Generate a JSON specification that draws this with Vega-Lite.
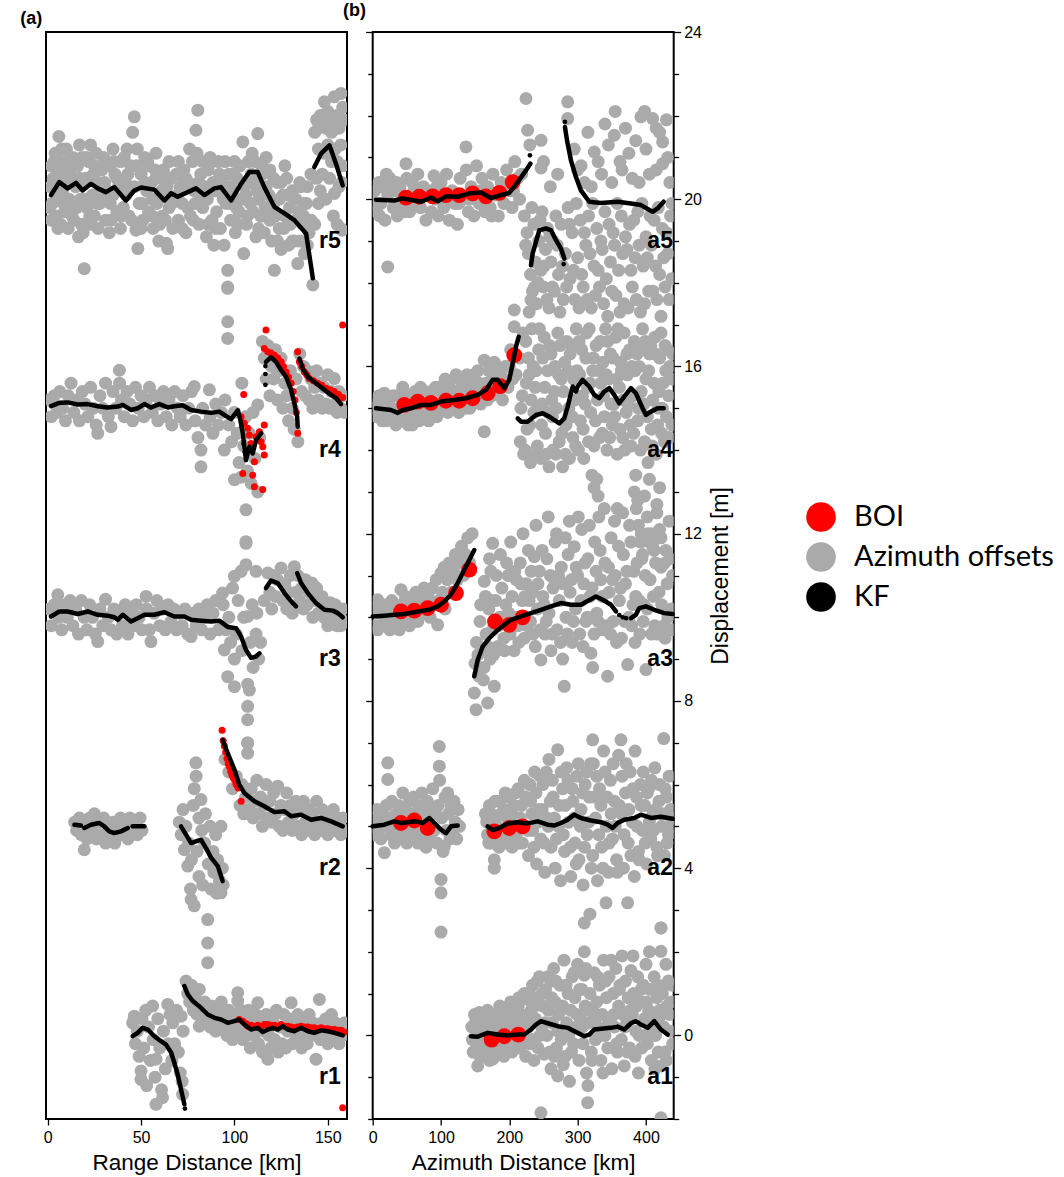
{
  "$schema": "https://vega.github.io/schema/vega-lite/v6.json",
  "usermeta": {"embedOptions": {"actions": false}},
  "background": "white",
  "autosize": {"type": "pad"},
  "padding": {"left": 19, "top": 1, "right": 5, "bottom": 58},
  "bounds": "flush",
  "spacing": 25.7,
  "resolve": {"scale": {"x": "independent", "y": "independent"}},
  "datasets": {
    "ga": [
      {"x":1.5,"y":20.3},{"x":2,"y":20.8},{"x":2.5,"y":19.9},{"x":3,"y":20.5},{"x":4,"y":21.1},{"x":4.5,"y":19.6},{"x":5,"y":20.0},{"x":6,"y":21.5},{"x":6.5,"y":20.7},{"x":7,"y":19.4},{"x":7.5,"y":21.2},{"x":8,"y":20.2},{"x":9,"y":19.7},{"x":9.5,"y":20.9},{"x":10.5,"y":20.4},{"x":11,"y":19.3},{"x":12,"y":20.6},{"x":12.5,"y":19.9},{"x":13.5,"y":21.0},{"x":14,"y":19.5},{"x":15,"y":20.3},{"x":16,"y":20.8},{"x":16.5,"y":19.1},{"x":17.5,"y":20.0},{"x":18,"y":19.4},{"x":19,"y":19.2},{"x":19.6,"y":18.34},
      {"x":20.5,"y":20.5},{"x":21,"y":19.8},{"x":22,"y":20.9},{"x":23,"y":21.3},{"x":24,"y":20.1},{"x":25,"y":19.6},{"x":26,"y":21.1},{"x":27,"y":20.4},{"x":28,"y":19.9},{"x":29,"y":20.7},{"x":30,"y":21.0},{"x":31,"y":19.5},{"x":32,"y":20.2},{"x":33,"y":20.8},{"x":34,"y":19.5},{"x":35,"y":20.1},{"x":36,"y":20.6},{"x":37,"y":19.7},{"x":38,"y":20.3},{"x":39,"y":20.9},
      {"x":40.5,"y":19.8},{"x":41.5,"y":20.5},{"x":42.5,"y":21.2},{"x":43.5,"y":19.6},{"x":44.5,"y":20.8},{"x":45.5,"y":21.6},{"x":46.4,"y":21.97},{"x":46.5,"y":20.3},{"x":47.3,"y":19.26},{"x":48.3,"y":18.82},{"x":49,"y":19.9},{"x":50,"y":20.6},{"x":51,"y":19.5},{"x":52,"y":21.0},{"x":53,"y":20.2},{"x":54,"y":19.7},
      {"x":55.5,"y":20.4},{"x":56.5,"y":19.3},{"x":57.5,"y":20.7},{"x":58.5,"y":19.9},{"x":59.5,"y":19.0},{"x":60.5,"y":20.5},{"x":61.5,"y":19.6},{"x":62.5,"y":20.2},{"x":63.5,"y":18.95},{"x":64.3,"y":18.82},{"x":65,"y":19.8},{"x":66,"y":20.5},{"x":67,"y":19.3},{"x":68,"y":20.0},{"x":69,"y":20.6},{"x":70,"y":19.5},{"x":71,"y":20.3},{"x":72,"y":19.9},{"x":73,"y":20.7},{"x":74,"y":19.2},
      {"x":75.5,"y":20.4},{"x":76.5,"y":19.6},{"x":77.5,"y":20.9},{"x":78.5,"y":20.2},{"x":79.4,"y":21.65},{"x":80.4,"y":22.13},{"x":80,"y":21.1},{"x":81,"y":19.4},{"x":82,"y":20.6},{"x":83,"y":19.8},{"x":84,"y":20.3},{"x":85,"y":19.1},{"x":86,"y":20.7},{"x":87,"y":21.0},{"x":88,"y":19.5},{"x":89,"y":18.9},{"x":89.5,"y":20.2},{"x":90.5,"y":19.7},{"x":91.5,"y":20.9},{"x":92.5,"y":19.3},{"x":93.5,"y":20.4},{"x":94.5,"y":18.9},{"x":95.5,"y":19.9},{"x":96.4,"y":18.3},{"x":96.4,"y":17.9},{"x":97,"y":20.6},{"x":98,"y":19.5},{"x":99,"y":20.1},
      {"x":100.5,"y":19.2},{"x":101.5,"y":20.5},{"x":102.5,"y":19.7},{"x":104.5,"y":21.37},{"x":105,"y":18.7},{"x":105.5,"y":20.3},{"x":106.5,"y":19.4},{"x":107.5,"y":20.9},{"x":108.5,"y":19.9},{"x":109.5,"y":21.1},{"x":110.5,"y":20.4},{"x":111.5,"y":19.1},{"x":112.5,"y":21.57},{"x":113,"y":20.0},{"x":114,"y":19.6},{"x":115,"y":20.6},{"x":116,"y":19.2},{"x":117,"y":20.3},{"x":118,"y":19.8},{"x":119,"y":20.7},{"x":120,"y":19.0},{"x":121.4,"y":18.3},{"x":122,"y":19.6},{"x":123,"y":20.4},{"x":124,"y":19.3},{"x":125,"y":18.8},{"x":126,"y":20.1},{"x":127,"y":19.6},{"x":128,"y":20.5},{"x":129,"y":18.9},{"x":130,"y":19.4},{"x":131,"y":20.2},{"x":132,"y":19.0},{"x":133.9,"y":18.46},{"x":134.5,"y":19.7},{"x":135.5,"y":20.3},{"x":136.5,"y":19.4},{"x":137.5,"y":18.7},{"x":138.5,"y":19.9},{"x":140,"y":19.2},{"x":142,"y":17.95},
      {"x":143,"y":21.6},{"x":144,"y":21.9},{"x":145,"y":21.7},{"x":146,"y":22.0},{"x":147,"y":21.8},{"x":148.2,"y":22.33},{"x":149,"y":21.7},{"x":150,"y":22.1},{"x":151,"y":21.9},{"x":152,"y":21.6},{"x":153.5,"y":22.45},{"x":154,"y":21.8},{"x":155,"y":22.0},{"x":156,"y":21.7},{"x":157.1,"y":22.53},{"x":158,"y":22.2},{"x":158.5,"y":21.9},{"x":144,"y":20.5},{"x":146,"y":20.2},{"x":155,"y":20.9},{"x":157,"y":19.3},{"x":157.5,"y":20.4},{"x":153.6,"y":20.14},{"x":157.6,"y":19.26},
      {"x":1,"y":19.8},{"x":3.5,"y":20.9},{"x":5.5,"y":20.4},{"x":8.5,"y":19.9},{"x":10,"y":21.2},{"x":11.5,"y":20.0},{"x":13,"y":20.5},{"x":14.5,"y":20.9},{"x":17,"y":20.5},{"x":18.5,"y":21.0},{"x":20,"y":20.0},{"x":22.5,"y":19.6},{"x":24.5,"y":20.6},{"x":26.5,"y":19.9},{"x":28.5,"y":20.3},{"x":30.5,"y":20.4},{"x":33.5,"y":19.9},{"x":35.5,"y":20.9},{"x":37.5,"y":20.2},{"x":39.5,"y":19.6},{"x":42,"y":20.1},{"x":44,"y":20.3},{"x":47.5,"y":20.8},{"x":50.5,"y":19.9},{"x":53.5,"y":20.9},{"x":56,"y":20.0},{"x":58,"y":20.5},{"x":60,"y":19.4},{"x":62,"y":20.7},{"x":64,"y":20.3},{"x":66.5,"y":19.9},{"x":69.5,"y":20.1},{"x":72.5,"y":20.5},{"x":75,"y":19.8},{"x":77,"y":20.3},{"x":79,"y":19.9},{"x":82.5,"y":20.1},{"x":85.5,"y":20.0},{"x":88.5,"y":20.4},{"x":91,"y":20.2},{"x":94,"y":20.0},{"x":97.5,"y":19.9},{"x":99.5,"y":20.6},{"x":101,"y":19.8},{"x":103,"y":20.8},{"x":106,"y":20.1},{"x":108,"y":20.4},{"x":110,"y":19.7},{"x":112,"y":20.2},{"x":114.5,"y":20.8},{"x":116.5,"y":19.8},{"x":118.5,"y":20.1},{"x":121,"y":19.9},{"x":124,"y":20.0},{"x":126.5,"y":19.3},{"x":129.5,"y":19.8},{"x":132.5,"y":19.5},{"x":135,"y":19.0},{"x":137,"y":19.6},{"x":139,"y":18.9},{"x":141,"y":19.5},
      {"x":2,"y":19.5},{"x":4,"y":20.3},{"x":5.5,"y":19.3},{"x":7,"y":20.9},{"x":9,"y":20.6},{"x":11,"y":20.8},{"x":13,"y":19.6},{"x":15.5,"y":19.8},{"x":17,"y":21.3},{"x":19,"y":20.4},{"x":21,"y":21.0},{"x":23,"y":19.4},{"x":25,"y":20.8},{"x":27,"y":19.3},{"x":29,"y":20.0},{"x":31,"y":20.8},{"x":33,"y":19.2},{"x":35,"y":21.2},{"x":37,"y":20.5},{"x":39,"y":19.3},{"x":41,"y":21.0},{"x":43,"y":20.6},{"x":45,"y":19.5},{"x":48,"y":21.2},{"x":50,"y":19.3},{"x":52,"y":20.4},{"x":54,"y":20.8},{"x":56,"y":19.6},{"x":58,"y":21.1},{"x":61,"y":20.2},{"x":63,"y":19.5},{"x":65,"y":20.9},{"x":67,"y":20.0},{"x":70,"y":20.9},{"x":72,"y":19.3},{"x":74,"y":20.5},{"x":76,"y":21.2},{"x":78,"y":19.5},{"x":81,"y":20.4},{"x":83,"y":20.9},{"x":86,"y":19.4},{"x":88,"y":20.9},{"x":90,"y":19.3},{"x":92,"y":20.6},{"x":95,"y":20.9},{"x":98,"y":20.3},{"x":100,"y":20.9},{"x":102,"y":19.4},{"x":104,"y":20.0},{"x":107,"y":19.6},{"x":109,"y":20.6},{"x":111,"y":20.9},{"x":113,"y":19.3},{"x":115,"y":19.6},{"x":117,"y":21.0},{"x":119,"y":19.5},{"x":121,"y":20.5},{"x":123,"y":19.0},{"x":125,"y":20.4},{"x":127,"y":20.8},{"x":129,"y":20.1},{"x":131,"y":19.0},{"x":133,"y":20.0},{"x":135,"y":20.4},{"x":137,"y":19.9},{"x":139,"y":20.3},{"x":141,"y":20.6},{"x":143,"y":19.4},{"x":145,"y":19.9},{"x":147,"y":20.6},{"x":149,"y":20.0},{"x":151,"y":20.5},{"x":153,"y":19.6},{"x":155,"y":19.4},{"x":156,"y":20.3},{"x":158,"y":20.8},{"x":150,"y":21.3},{"x":152,"y":20.9},{"x":145,"y":21.2},{"x":148,"y":21.1},{"x":154,"y":21.2},{"x":157,"y":21.3},
      {"x":1,"y":15.2},{"x":2,"y":14.8},{"x":3.5,"y":15.3},{"x":5,"y":14.9},{"x":6.5,"y":15.4},{"x":8,"y":15.0},{"x":9.5,"y":14.7},{"x":11,"y":15.3},{"x":12.5,"y":15.6},{"x":14,"y":14.9},{"x":15.5,"y":15.2},{"x":17,"y":14.7},{"x":18.5,"y":15.4},{"x":20,"y":15.1},{"x":21.5,"y":14.8},{"x":23,"y":15.5},{"x":24.5,"y":15.0},{"x":26,"y":14.6},{"x":26.8,"y":14.4},{"x":28,"y":15.3},{"x":29.5,"y":15.0},{"x":31,"y":15.6},{"x":32.5,"y":14.8},{"x":33.9,"y":14.56},{"x":35,"y":15.4},{"x":36.5,"y":15.0},{"x":38.4,"y":15.91},{"x":38.5,"y":15.6},{"x":39.5,"y":15.2},{"x":41,"y":14.8},{"x":42.5,"y":15.4},{"x":44,"y":15.1},{"x":45.5,"y":14.7},{"x":47,"y":15.5},{"x":48.5,"y":15.0},{"x":50,"y":15.3},{"x":51.5,"y":14.8},{"x":53,"y":15.2},{"x":54.5,"y":15.5},{"x":56,"y":14.9},{"x":57.5,"y":15.3},{"x":59,"y":14.7},{"x":60.5,"y":15.1},{"x":62,"y":15.4},{"x":63.5,"y":14.8},{"x":65,"y":15.2},{"x":66.5,"y":14.6},{"x":68,"y":15.4},{"x":69.5,"y":15.0},{"x":71,"y":14.8},{"x":72.5,"y":15.3},{"x":74,"y":14.6},{"x":75.5,"y":15.0},{"x":77,"y":15.4},{"x":78.5,"y":15.52},{"x":79,"y":14.7},{"x":80.5,"y":14.3},{"x":82.1,"y":14.0},{"x":82.1,"y":13.6},{"x":83,"y":15.0},{"x":84.5,"y":14.6},{"x":86.6,"y":15.44},{"x":87,"y":14.8},{"x":88.5,"y":14.4},{"x":90,"y":15.1},{"x":91.5,"y":14.6},{"x":93,"y":14.9},{"x":94.6,"y":14.0},{"x":95,"y":15.2},{"x":96.4,"y":17.87},{"x":96.4,"y":17.07},{"x":96.4,"y":16.67},{"x":97,"y":14.6},{"x":98.5,"y":14.2},{"x":100,"y":13.29},{"x":100,"y":14.9},{"x":101.5,"y":14.4},{"x":102.5,"y":13.7},{"x":103.6,"y":13.35},{"x":104,"y":15.6},{"x":105,"y":14.1},{"x":106,"y":14.8},{"x":106.2,"y":12.57},{"x":106.2,"y":11.81},{"x":107,"y":13.5},{"x":108,"y":14.4},{"x":109,"y":13.2},{"x":110,"y":14.9},{"x":111,"y":13.8},{"x":112.5,"y":15.08},{"x":112.5,"y":13.0},{"x":113.5,"y":14.3},{"x":115,"y":16.6},{"x":116,"y":16.2},{"x":117,"y":15.7},{"x":118,"y":16.5},{"x":119,"y":15.3},{"x":120,"y":16.0},{"x":121,"y":15.7},{"x":122,"y":16.4},{"x":123,"y":15.2},{"x":124,"y":15.9},{"x":125,"y":16.2},{"x":126,"y":15.0},{"x":127,"y":15.6},{"x":128,"y":15.3},{"x":129,"y":14.7},{"x":130,"y":15.9},{"x":131,"y":15.0},{"x":132,"y":14.5},{"x":133,"y":15.7},{"x":134,"y":14.2},{"x":135,"y":16.3},{"x":136,"y":15.4},{"x":137,"y":16.0},{"x":138,"y":15.3},{"x":139,"y":15.9},{"x":140,"y":15.2},{"x":141,"y":15.7},{"x":142,"y":15.0},{"x":143,"y":15.5},{"x":144,"y":15.9},{"x":145,"y":15.2},{"x":146,"y":15.6},{"x":147,"y":15.0},{"x":148,"y":15.5},{"x":149,"y":15.1},{"x":150,"y":15.8},{"x":151,"y":15.0},{"x":152,"y":15.4},{"x":153.5,"y":15.71},{"x":154,"y":15.1},{"x":155,"y":14.9},{"x":156,"y":15.4},{"x":157,"y":15.0},{"x":158,"y":15.3},{"x":159,"y":14.9},
      {"x":1,"y":10.2},{"x":2,"y":9.8},{"x":3.5,"y":10.3},{"x":5.4,"y":10.54},{"x":6,"y":10.0},{"x":7.5,"y":9.7},{"x":9,"y":10.3},{"x":10.5,"y":10.0},{"x":12,"y":10.4},{"x":13.5,"y":9.8},{"x":15,"y":10.2},{"x":16.5,"y":9.6},{"x":18,"y":10.4},{"x":19.5,"y":10.0},{"x":21,"y":9.7},{"x":22.5,"y":10.3},{"x":24,"y":10.0},{"x":25.5,"y":9.6},{"x":26.8,"y":9.42},{"x":28,"y":10.2},{"x":29.5,"y":9.8},{"x":31,"y":10.43},{"x":32.5,"y":10.0},{"x":34,"y":9.7},{"x":35.5,"y":10.2},{"x":37,"y":9.6},{"x":38.5,"y":10.1},{"x":40,"y":9.8},{"x":41.5,"y":10.3},{"x":43,"y":9.6},{"x":44.5,"y":10.1},{"x":46,"y":9.8},{"x":47.5,"y":10.3},{"x":49,"y":10.0},{"x":50.5,"y":9.7},{"x":52.7,"y":10.5},{"x":53,"y":10.2},{"x":54.5,"y":9.7},{"x":55.3,"y":9.42},{"x":57,"y":10.1},{"x":58.5,"y":10.4},{"x":60,"y":9.8},{"x":61.5,"y":10.2},{"x":63,"y":9.7},{"x":64.5,"y":10.3},{"x":66,"y":9.9},{"x":67.5,"y":10.2},{"x":69,"y":9.7},{"x":70.5,"y":10.1},{"x":72,"y":9.8},{"x":73.5,"y":10.2},{"x":75,"y":9.6},{"x":76.8,"y":9.54},{"x":78,"y":10.1},{"x":79.5,"y":9.8},{"x":81,"y":10.2},{"x":82.5,"y":9.7},{"x":84,"y":10.0},{"x":85.5,"y":10.3},{"x":87,"y":9.6},{"x":88.5,"y":10.1},{"x":90,"y":10.4},{"x":91.5,"y":9.7},{"x":93.7,"y":10.58},{"x":94,"y":10.3},{"x":94.6,"y":9.22},{"x":95.5,"y":9.7},{"x":96.4,"y":8.58},{"x":97,"y":10.0},{"x":98,"y":9.4},{"x":99,"y":10.7},{"x":100,"y":10.98},{"x":100,"y":9.0},{"x":100,"y":8.34},{"x":101,"y":9.6},{"x":102,"y":10.4},{"x":103.6,"y":11.1},{"x":104,"y":9.2},{"x":105,"y":10.0},{"x":106.2,"y":11.77},{"x":106.2,"y":11.26},{"x":107.1,"y":10.02},{"x":107.1,"y":8.4},{"x":108,"y":8.26},{"x":107.1,"y":7.87},{"x":107.1,"y":7.55},{"x":107.1,"y":7.0},{"x":107.1,"y":6.75},{"x":108.5,"y":9.4},{"x":109.5,"y":10.3},{"x":110,"y":8.8},{"x":111.6,"y":11.1},{"x":111.6,"y":9.6},{"x":112,"y":10.1},{"x":113,"y":9.0},{"x":114,"y":9.4},{"x":116,"y":10.4},{"x":117.9,"y":11.06},{"x":119,"y":10.6},{"x":120,"y":10.2},{"x":121,"y":11.0},{"x":122,"y":10.5},{"x":123,"y":10.9},{"x":125,"y":11.18},{"x":126,"y":10.4},{"x":127,"y":10.8},{"x":128,"y":10.2},{"x":129,"y":10.6},{"x":130,"y":11.0},{"x":131,"y":10.1},{"x":132.1,"y":11.21},{"x":133,"y":10.6},{"x":134,"y":11.0},{"x":135,"y":10.4},{"x":136,"y":10.7},{"x":137,"y":10.2},{"x":138,"y":10.9},{"x":139,"y":10.3},{"x":140,"y":10.6},{"x":141.5,"y":10.82},{"x":142,"y":10.0},{"x":143,"y":10.4},{"x":144,"y":10.7},{"x":145,"y":10.1},{"x":146.9,"y":10.5},{"x":148,"y":10.0},{"x":149,"y":10.3},{"x":150,"y":9.8},{"x":151.3,"y":10.35},{"x":152,"y":10.0},{"x":153.6,"y":9.98},{"x":154,"y":10.3},{"x":155,"y":9.8},{"x":156,"y":10.1},{"x":157,"y":9.8},{"x":158,"y":10.2},{"x":159,"y":9.9},
      {"x":14.5,"y":5.1},{"x":15.5,"y":4.9},{"x":17,"y":5.2},{"x":18,"y":4.8},{"x":19.6,"y":4.44},{"x":20,"y":5.0},{"x":21,"y":4.7},{"x":22.5,"y":5.2},{"x":23.5,"y":4.9},{"x":25,"y":5.3},{"x":26,"y":4.7},{"x":27.5,"y":5.1},{"x":28.5,"y":4.8},{"x":30,"y":5.2},{"x":31,"y":4.6},{"x":32.5,"y":5.0},{"x":33.5,"y":4.7},{"x":35,"y":5.1},{"x":36,"y":4.6},{"x":37.5,"y":4.9},{"x":39,"y":5.2},{"x":40,"y":4.8},{"x":41.5,"y":5.0},{"x":43,"y":4.7},{"x":44,"y":5.2},{"x":45.5,"y":4.9},{"x":47,"y":5.1},{"x":48,"y":4.8},{"x":49.5,"y":5.2},{"x":50.5,"y":4.9},
      {"x":70.5,"y":5.1},{"x":71.5,"y":4.8},{"x":72.5,"y":5.4},{"x":73.2,"y":4.44},{"x":74,"y":5.0},{"x":75,"y":4.05},{"x":75.5,"y":4.6},{"x":76.5,"y":3.5},{"x":76.8,"y":3.25},{"x":77,"y":4.2},{"x":78,"y":5.5},{"x":78.5,"y":5.9},{"x":78.5,"y":3.1},{"x":79.4,"y":6.52},{"x":79.5,"y":6.2},{"x":80,"y":4.4},{"x":81,"y":3.8},{"x":81,"y":5.2},{"x":82.1,"y":5.64},{"x":82.5,"y":4.9},{"x":83,"y":3.6},{"x":84,"y":4.6},{"x":84.5,"y":5.3},{"x":85.7,"y":2.77},{"x":85.7,"y":2.21},{"x":85.7,"y":1.74},{"x":86,"y":4.1},{"x":87,"y":5.0},{"x":87.5,"y":3.5},{"x":88.5,"y":4.4},{"x":89,"y":3.9},{"x":90,"y":4.8},{"x":90.5,"y":3.4},{"x":91,"y":4.2},{"x":92,"y":3.7},{"x":92.8,"y":3.41},{"x":92.8,"y":5.0},{"x":93.5,"y":4.0},{"x":94,"y":3.6},
      {"x":95,"y":6.6},{"x":97,"y":6.3},{"x":99,"y":5.9},{"x":101,"y":6.2},{"x":103,"y":5.5},{"x":104,"y":6.0},{"x":105,"y":5.3},{"x":106,"y":5.7},{"x":107.1,"y":6.99},{"x":108,"y":5.4},{"x":109,"y":5.9},{"x":110,"y":5.2},{"x":111,"y":5.6},{"x":112,"y":6.1},{"x":113,"y":5.3},{"x":114,"y":5.7},{"x":115,"y":5.0},{"x":116,"y":5.5},{"x":117,"y":6.0},{"x":118,"y":5.2},{"x":119,"y":5.6},{"x":120,"y":5.1},{"x":121,"y":5.8},{"x":122,"y":5.3},{"x":123.2,"y":5.96},{"x":124,"y":5.0},{"x":125,"y":5.5},{"x":126,"y":4.9},{"x":127,"y":5.4},{"x":128,"y":5.8},{"x":129,"y":5.1},{"x":130,"y":5.5},{"x":131,"y":4.9},{"x":132,"y":5.3},{"x":133,"y":5.6},{"x":134,"y":5.0},{"x":135,"y":5.4},{"x":136,"y":4.8},{"x":137,"y":5.6},{"x":138,"y":5.1},{"x":139,"y":4.9},{"x":140,"y":5.4},{"x":141,"y":5.0},{"x":142,"y":5.3},{"x":143,"y":4.8},{"x":144,"y":5.6},{"x":145,"y":5.1},{"x":146,"y":4.9},{"x":147,"y":5.4},{"x":148,"y":5.0},{"x":149,"y":5.2},{"x":150,"y":4.8},{"x":151,"y":5.3},{"x":152,"y":5.0},{"x":153,"y":5.4},{"x":154,"y":4.9},{"x":155,"y":5.2},{"x":156,"y":5.0},{"x":157,"y":4.8},{"x":158,"y":5.2},{"x":159,"y":4.9},
      {"x":45.5,"y":0.3},{"x":46.4,"y":0.46},{"x":47,"y":-0.2},{"x":48,"y":0.1},{"x":49,"y":-0.5},{"x":50,"y":-0.85},{"x":50,"y":-1.05},{"x":50.5,"y":0.4},{"x":51.5,"y":-0.3},{"x":52.5,"y":0.6},{"x":53,"y":-1.2},{"x":54,"y":0.2},{"x":55,"y":-0.6},{"x":56.2,"y":0.7},{"x":56.5,"y":-0.1},{"x":57.5,"y":-1.0},{"x":58,"y":-0.57},{"x":58,"y":-1.65},{"x":59,"y":0.4},{"x":60,"y":-0.3},{"x":61,"y":-1.3},{"x":61.5,"y":-1.49},{"x":62,"y":0.1},{"x":63,"y":-0.8},{"x":64.3,"y":0.74},{"x":64.5,"y":-0.2},{"x":65.5,"y":0.5},{"x":66.5,"y":-0.6},{"x":67,"y":0.3},{"x":68,"y":-0.2},{"x":69,"y":0.6},{"x":70,"y":-0.4},{"x":71,"y":-0.9},{"x":71.4,"y":0.46},{"x":72,"y":-1.1},{"x":72.3,"y":-1.41},{"x":72.5,"y":0.1},
      {"x":74.1,"y":1.3},{"x":75,"y":1.0},{"x":76,"y":0.8},{"x":77,"y":1.2},{"x":78,"y":0.6},{"x":79,"y":0.9},{"x":80,"y":0.5},{"x":81.2,"y":1.1},{"x":81.2,"y":0.22},{"x":82,"y":0.7},{"x":83,"y":0.4},{"x":84,"y":0.8},{"x":85,"y":0.3},{"x":86,"y":0.6},{"x":87,"y":0.2},{"x":88,"y":0.7},{"x":89,"y":0.4},{"x":90,"y":0.1},{"x":91,"y":0.6},{"x":92,"y":0.3},{"x":93,"y":0.8},{"x":94,"y":0.2},{"x":95,"y":0.5},{"x":96,"y":0.0},{"x":97,"y":0.6},{"x":98,"y":0.3},{"x":99,"y":-0.1},{"x":100,"y":0.06},{"x":100.5,"y":0.5},{"x":101.8,"y":1.02},{"x":101.8,"y":0.82},{"x":102.5,"y":0.2},{"x":103.5,"y":0.6},{"x":104.5,"y":-0.1},{"x":105.5,"y":0.4},{"x":106.5,"y":0.0},{"x":107.5,"y":0.6},{"x":108.5,"y":-0.3},{"x":109.5,"y":0.3},{"x":110.5,"y":0.0},{"x":111.5,"y":0.5},{"x":112.5,"y":0.78},{"x":113,"y":-0.2},{"x":114,"y":0.3},{"x":115,"y":-0.4},{"x":116,"y":0.1},{"x":117,"y":0.5},{"x":117.9,"y":-0.57},{"x":118.5,"y":0.0},{"x":119.5,"y":-0.3},{"x":120.5,"y":0.4},{"x":121.5,"y":-0.1},{"x":122.5,"y":0.6},{"x":123.5,"y":-0.4},{"x":124.5,"y":0.2},{"x":125.5,"y":-0.2},{"x":126.5,"y":0.5},{"x":127.5,"y":-0.3},{"x":128.5,"y":0.1},{"x":129.5,"y":0.4},{"x":130.4,"y":0.78},{"x":131,"y":-0.2},{"x":132,"y":0.3},{"x":133,"y":-0.1},{"x":134,"y":0.5},{"x":135,"y":0.0},{"x":136,"y":-0.3},{"x":137,"y":0.4},{"x":138,"y":0.1},{"x":139,"y":-0.2},{"x":140,"y":0.5},{"x":141,"y":0.0},{"x":142,"y":0.3},{"x":143.7,"y":-0.57},{"x":144,"y":0.2},{"x":145.5,"y":0.86},{"x":146,"y":-0.1},{"x":147,"y":0.3},{"x":148,"y":0.0},{"x":149,"y":0.4},{"x":150,"y":-0.2},{"x":151,"y":0.2},{"x":152,"y":0.5},{"x":153,"y":-0.1},{"x":154,"y":0.3},{"x":155,"y":0.0},{"x":156,"y":-0.2},{"x":157,"y":0.2},{"x":158,"y":0.0},{"x":159,"y":0.3}
    ],
    "ra": [
      {"x":105.0,"y":15.33},{"x":103.6,"y":14.80},{"x":105.3,"y":14.64},{"x":107.1,"y":14.52},{"x":108.0,"y":14.36},{"x":108.9,"y":14.16},{"x":111.6,"y":14.32},{"x":113.4,"y":14.44},{"x":116.0,"y":14.60},{"x":114.3,"y":14.20},{"x":115.2,"y":14.08},{"x":116.0,"y":13.88},{"x":110.7,"y":13.72},{"x":104.5,"y":13.44},{"x":109.8,"y":13.40},{"x":110.7,"y":13.12},{"x":115.2,"y":13.06},{"x":116.9,"y":16.87},{"x":116.0,"y":16.43},{"x":117.9,"y":16.35},{"x":119.6,"y":16.32},{"x":121.4,"y":16.27},{"x":123.2,"y":16.2},{"x":125.0,"y":16.11},{"x":126.3,"y":16.0},{"x":127.7,"y":15.87},{"x":129.0,"y":15.75},{"x":130.4,"y":15.60},{"x":131.5,"y":15.4},{"x":132.5,"y":15.20},{"x":133.2,"y":14.9},{"x":133.9,"y":14.40},{"x":133.9,"y":16.35},{"x":134.8,"y":16.11},{"x":136.1,"y":16.0},{"x":137.5,"y":15.87},{"x":138.8,"y":15.8},{"x":140.1,"y":15.71},{"x":142.3,"y":15.66},{"x":144.6,"y":15.60},{"x":146.8,"y":15.55},{"x":149.1,"y":15.48},{"x":151.3,"y":15.44},{"x":153.5,"y":15.40},{"x":155.8,"y":15.33},{"x":158.0,"y":15.26},{"x":158.0,"y":16.99},
      {"x":93.4,"y":7.30},{"x":94.0,"y":7.05},{"x":94.6,"y":6.92},{"x":95.3,"y":6.78},{"x":96.0,"y":6.62},{"x":96.7,"y":6.5},{"x":97.3,"y":6.43},{"x":98.0,"y":6.32},{"x":98.7,"y":6.22},{"x":99.4,"y":6.16},{"x":100.0,"y":6.12},{"x":100.8,"y":6.02},{"x":101.5,"y":5.97},{"x":102.1,"y":5.92},{"x":103.6,"y":5.60},
      {"x":102.6,"y":0.38},{"x":104.5,"y":0.34},{"x":106.3,"y":0.28},{"x":107.1,"y":0.22},{"x":108.9,"y":0.24},{"x":110.7,"y":0.22},{"x":112.5,"y":0.24},{"x":114.3,"y":0.22},{"x":116.1,"y":0.26},{"x":117.9,"y":0.26},{"x":119.7,"y":0.24},{"x":121.4,"y":0.24},{"x":123.2,"y":0.22},{"x":125.0,"y":0.26},{"x":126.8,"y":0.22},{"x":128.6,"y":0.22},{"x":130.4,"y":0.2},{"x":132.1,"y":0.18},{"x":133.9,"y":0.2},{"x":135.7,"y":0.22},{"x":137.5,"y":0.2},{"x":139.3,"y":0.2},{"x":141.1,"y":0.18},{"x":142.8,"y":0.18},{"x":144.6,"y":0.16},{"x":146.4,"y":0.18},{"x":148.2,"y":0.16},{"x":150.0,"y":0.16},{"x":151.8,"y":0.14},{"x":153.6,"y":0.14},{"x":155.4,"y":0.12},{"x":157.2,"y":0.12},{"x":158.9,"y":0.08},{"x":158.0,"y":-1.73}
    ],
    "ka": [
      {"g":1,"x":1.8,"y":20.10},{"g":1,"x":6.2,"y":20.41},{"g":1,"x":10.7,"y":20.26},{"g":1,"x":15.2,"y":20.39},{"g":1,"x":18.7,"y":20.21},{"g":1,"x":23.2,"y":20.37},{"g":1,"x":26.8,"y":20.26},{"g":1,"x":31.2,"y":20.17},{"g":1,"x":35.7,"y":20.29},{"g":1,"x":41.9,"y":19.97},{"g":1,"x":46.4,"y":20.21},{"g":1,"x":50.0,"y":20.28},{"g":1,"x":57.1,"y":20.23},{"g":1,"x":62.5,"y":19.97},{"g":1,"x":66.1,"y":20.14},{"g":1,"x":69.6,"y":20.06},{"g":1,"x":75.0,"y":20.17},{"g":1,"x":79.4,"y":20.26},{"g":1,"x":83.9,"y":20.10},{"g":1,"x":89.3,"y":20.26},{"g":1,"x":92.8,"y":20.29},{"g":1,"x":98.2,"y":19.97},{"g":1,"x":103.6,"y":20.37},{"g":1,"x":108.0,"y":20.65},{"g":1,"x":112.5,"y":20.65},{"g":1,"x":116.0,"y":20.29},{"g":1,"x":121.4,"y":19.82},{"g":1,"x":126.8,"y":19.66},{"g":1,"x":132.1,"y":19.50},{"g":1,"x":138.4,"y":19.18},{"g":1,"x":142.0,"y":18.11},
      {"g":2,"x":142.8,"y":20.77},{"g":2,"x":146.4,"y":21.09},{"g":2,"x":150.9,"y":21.29},{"g":2,"x":154.4,"y":20.85},{"g":2,"x":158.0,"y":20.33},
      {"g":3,"x":1.8,"y":15.05},{"g":3,"x":6.2,"y":15.13},{"g":3,"x":10.7,"y":15.14},{"g":3,"x":16.1,"y":15.09},{"g":3,"x":21.4,"y":15.10},{"g":3,"x":26.8,"y":15.05},{"g":3,"x":32.1,"y":15.02},{"g":3,"x":37.5,"y":15.04},{"g":3,"x":40.2,"y":15.08},{"g":3,"x":44.6,"y":14.96},{"g":3,"x":48.2,"y":15.00},{"g":3,"x":51.8,"y":15.10},{"g":3,"x":55.3,"y":15.02},{"g":3,"x":59.8,"y":15.10},{"g":3,"x":64.3,"y":15.02},{"g":3,"x":67.8,"y":15.05},{"g":3,"x":72.3,"y":15.07},{"g":3,"x":76.8,"y":14.96},{"g":3,"x":82.1,"y":14.92},{"g":3,"x":87.5,"y":14.89},{"g":3,"x":91.9,"y":14.92},{"g":3,"x":94.6,"y":14.84},{"g":3,"x":98.2,"y":14.74},{"g":3,"x":101.8,"y":14.95},{"g":3,"x":103.2,"y":14.72},{"g":3,"x":104.5,"y":14.40},{"g":3,"x":106.2,"y":13.76},{"g":3,"x":108.0,"y":14.08},{"g":3,"x":109.8,"y":13.92},{"g":3,"x":111.6,"y":14.24},{"g":3,"x":114.3,"y":14.40},
      {"g":4,"x":116.9,"y":16.11},{"g":4,"x":119.6,"y":16.22},{"g":4,"x":122.3,"y":16.11},{"g":4,"x":125.0,"y":15.91},{"g":4,"x":127.7,"y":15.75},{"g":4,"x":130.4,"y":15.44},{"g":4,"x":132.1,"y":15.12},{"g":4,"x":133.6,"y":14.80},{"g":4,"x":133.9,"y":14.56},
      {"g":5,"x":134.8,"y":16.19},{"g":5,"x":136.6,"y":15.95},{"g":5,"x":139.3,"y":15.75},{"g":5,"x":143.7,"y":15.60},{"g":5,"x":148.2,"y":15.44},{"g":5,"x":151.8,"y":15.32},{"g":5,"x":154.5,"y":15.24},{"g":5,"x":157.1,"y":15.10},
      {"g":6,"x":1.8,"y":10.02},{"g":6,"x":6.2,"y":10.14},{"g":6,"x":10.7,"y":10.14},{"g":6,"x":16.1,"y":10.08},{"g":6,"x":21.4,"y":10.14},{"g":6,"x":26.8,"y":10.06},{"g":6,"x":32.1,"y":10.04},{"g":6,"x":35.7,"y":10.00},{"g":6,"x":37.5,"y":9.94},{"g":6,"x":40.2,"y":10.06},{"g":6,"x":44.6,"y":9.90},{"g":6,"x":48.2,"y":9.98},{"g":6,"x":51.8,"y":10.06},{"g":6,"x":57.1,"y":10.06},{"g":6,"x":62.5,"y":10.12},{"g":6,"x":67.8,"y":10.02},{"g":6,"x":73.2,"y":10.02},{"g":6,"x":76.8,"y":9.94},{"g":6,"x":82.1,"y":9.92},{"g":6,"x":87.5,"y":9.90},{"g":6,"x":91.9,"y":9.92},{"g":6,"x":96.4,"y":9.77},{"g":6,"x":100.9,"y":9.74},{"g":6,"x":103.6,"y":9.54},{"g":6,"x":106.2,"y":9.22},{"g":6,"x":108.9,"y":9.03},{"g":6,"x":111.6,"y":9.06},{"g":6,"x":113.4,"y":9.14},
      {"g":7,"x":116.9,"y":10.70},{"g":7,"x":119.6,"y":10.88},{"g":7,"x":123.2,"y":10.82},{"g":7,"x":126.8,"y":10.58},{"g":7,"x":130.4,"y":10.38},{"g":7,"x":133.0,"y":10.26},
      {"g":8,"x":133.6,"y":11.06},{"g":8,"x":135.7,"y":10.82},{"g":8,"x":139.3,"y":10.58},{"g":8,"x":143.7,"y":10.34},{"g":8,"x":148.2,"y":10.18},{"g":8,"x":152.7,"y":10.16},{"g":8,"x":155.4,"y":10.10},{"g":8,"x":158.0,"y":10.00},
      {"g":9,"x":93.7,"y":7.07},{"g":9,"x":96.4,"y":6.75},{"g":9,"x":100.0,"y":6.36},{"g":9,"x":102.6,"y":6.00},{"g":9,"x":105.3,"y":5.80},{"g":9,"x":110.7,"y":5.60},{"g":9,"x":116.0,"y":5.48},{"g":9,"x":121.4,"y":5.34},{"g":9,"x":126.8,"y":5.36},{"g":9,"x":130.4,"y":5.24},{"g":9,"x":135.7,"y":5.28},{"g":9,"x":141.1,"y":5.16},{"g":9,"x":146.4,"y":5.20},{"g":9,"x":151.8,"y":5.12},{"g":9,"x":158.0,"y":5.00},
      {"g":10,"x":14.3,"y":5.04},{"g":10,"x":17.8,"y":5.02},
      {"g":11,"x":19.6,"y":4.96},{"g":11,"x":23.2,"y":5.04},{"g":11,"x":27.7,"y":5.08},{"g":11,"x":30.3,"y":5.00},{"g":11,"x":33.0,"y":4.88},{"g":11,"x":35.7,"y":4.84},{"g":11,"x":39.3,"y":4.88},{"g":11,"x":42.9,"y":4.96},
      {"g":12,"x":45.5,"y":5.00},{"g":12,"x":51.8,"y":5.00},
      {"g":13,"x":71.4,"y":5.00},{"g":13,"x":74.1,"y":4.80},{"g":13,"x":76.8,"y":4.60},{"g":13,"x":79.4,"y":4.64},{"g":13,"x":82.1,"y":4.68},{"g":13,"x":84.8,"y":4.48},{"g":13,"x":87.5,"y":4.25},{"g":13,"x":91.1,"y":4.05},{"g":13,"x":93.7,"y":3.69},
      {"g":14,"x":45.5,"y":-0.02},{"g":14,"x":48.2,"y":0.06},{"g":14,"x":50.9,"y":0.18},{"g":14,"x":53.6,"y":0.14},{"g":14,"x":57.1,"y":-0.02},{"g":14,"x":60.7,"y":-0.14},{"g":14,"x":63.4,"y":-0.22},{"g":14,"x":66.1,"y":-0.41},{"g":14,"x":67.8,"y":-0.65},{"g":14,"x":69.6,"y":-0.93},{"g":14,"x":71.4,"y":-1.29},{"g":14,"x":73.2,"y":-1.65},
      {"g":15,"x":73.2,"y":1.18},{"g":15,"x":75.0,"y":0.98},{"g":15,"x":77.7,"y":0.82},{"g":15,"x":82.1,"y":0.66},{"g":15,"x":85.7,"y":0.50},{"g":15,"x":89.3,"y":0.42},{"g":15,"x":92.8,"y":0.38},{"g":15,"x":96.4,"y":0.30},{"g":15,"x":100.0,"y":0.34},{"g":15,"x":102.6,"y":0.38},{"g":15,"x":105.3,"y":0.26},{"g":15,"x":108.9,"y":0.14},{"g":15,"x":112.5,"y":0.18},{"g":15,"x":115.2,"y":0.08},{"g":15,"x":117.9,"y":0.14},{"g":15,"x":120.5,"y":0.18},{"g":15,"x":123.2,"y":0.14},{"g":15,"x":125.9,"y":0.22},{"g":15,"x":128.6,"y":0.14},{"g":15,"x":132.1,"y":0.10},{"g":15,"x":135.7,"y":0.18},{"g":15,"x":139.3,"y":0.10},{"g":15,"x":142.8,"y":0.06},{"g":15,"x":146.4,"y":0.12},{"g":15,"x":150.0,"y":0.10},{"g":15,"x":153.6,"y":0.06},{"g":15,"x":158.0,"y":0.00}
    ],
    "da": [
      {"x":116.6,"y":16.01},{"x":116.6,"y":15.82},{"x":116.6,"y":15.56},{"x":103.9,"y":14.55},{"x":104.9,"y":14.15},{"x":105.6,"y":13.95},{"x":73.5,"y":-1.75}
    ],
    "la": [
      {"t":"r5","x":157,"y":19},{"t":"r4","x":157,"y":14},{"t":"r3","x":157,"y":9},{"t":"r2","x":157,"y":4},{"t":"r1","x":157,"y":-1}
    ],
    "gb": [
      {"x":3,"y":20.2},{"x":6,"y":19.7},{"x":9,"y":20.4},{"x":12,"y":19.9},{"x":15,"y":20.3},{"x":18,"y":19.5},{"x":21.9,"y":18.38},{"x":22,"y":20.1},{"x":25,"y":20.5},{"x":27,"y":20.4},{"x":30,"y":19.8},{"x":33,"y":20.2},{"x":36,"y":19.6},{"x":40,"y":20.3},{"x":44,"y":19.9},{"x":48.7,"y":20.85},{"x":50,"y":20.5},{"x":54,"y":19.7},{"x":58,"y":20.4},{"x":62,"y":19.9},{"x":66,"y":20.6},{"x":70,"y":19.8},{"x":74,"y":20.3},{"x":78,"y":19.5},{"x":82,"y":20.2},{"x":86,"y":19.7},{"x":89.7,"y":20.56},{"x":92,"y":20.0},{"x":96,"y":19.6},{"x":100,"y":20.4},{"x":104,"y":19.8},{"x":108,"y":20.6},{"x":112,"y":19.5},{"x":116,"y":20.2},{"x":120,"y":19.9},{"x":124,"y":19.4},{"x":128,"y":20.5},{"x":132,"y":20.0},{"x":136.5,"y":21.25},{"x":137,"y":20.7},{"x":140,"y":19.7},{"x":144,"y":20.3},{"x":148,"y":19.6},{"x":152,"y":20.8},{"x":156,"y":19.9},{"x":160,"y":20.5},{"x":164,"y":19.7},{"x":168,"y":20.3},{"x":172,"y":19.8},{"x":176,"y":20.6},{"x":180,"y":20.1},{"x":184,"y":19.6},{"x":188,"y":20.4},{"x":192,"y":19.9},{"x":196,"y":20.7},{"x":200,"y":20.2},{"x":204,"y":19.8},{"x":208,"y":20.9},{"x":212,"y":20.5},
      {"x":1,"y":19.9},{"x":10,"y":19.6},{"x":20,"y":20.6},{"x":35,"y":20.4},{"x":46,"y":19.7},{"x":60,"y":20.2},{"x":76,"y":20.1},{"x":94,"y":20.3},{"x":110,"y":20.0},{"x":126,"y":19.9},{"x":142,"y":20.0},{"x":158,"y":20.2},{"x":174,"y":19.6},{"x":190,"y":20.2},{"x":206,"y":20.2},{"x":215,"y":20.0},{"x":218,"y":20.6},
      {"x":224.4,"y":22.41},{"x":226.8,"y":21.65},{"x":230,"y":21.3},{"x":246.4,"y":21.41},{"x":250,"y":20.9},{"x":246.4,"y":20.75},{"x":285.4,"y":22.33},{"x":285.4,"y":21.93},{"x":295,"y":21.2},{"x":305,"y":20.8},{"x":315,"y":21.6},{"x":324.3,"y":21.13},{"x":335,"y":20.6},{"x":345,"y":21.3},{"x":353.6,"y":21.53},{"x":362,"y":20.9},{"x":370,"y":21.7},{"x":380,"y":20.5},{"x":392.6,"y":21.97},{"x":400,"y":21.2},{"x":409.8,"y":21.93},{"x":415,"y":20.7},{"x":424.4,"y":21.37},{"x":424.4,"y":20.85},{"x":432,"y":21.0},{"x":270.8,"y":20.6},{"x":260,"y":20.3},{"x":340,"y":21.8},{"x":385,"y":21.4},{"x":430,"y":21.9},{"x":310,"y":20.4},{"x":330,"y":20.9},{"x":350,"y":20.4},{"x":365,"y":20.7},{"x":375,"y":21.1},{"x":390,"y":20.4},{"x":405,"y":20.6},{"x":420,"y":21.6},{"x":435,"y":20.4},{"x":300,"y":20.7},{"x":320,"y":20.3},{"x":355,"y":22.1},{"x":398,"y":22.1},{"x":415,"y":21.7},
      {"x":222,"y":19.6},{"x":226,"y":19.2},{"x":228,"y":18.7},{"x":231,"y":18.2},{"x":234,"y":17.8},{"x":236,"y":19.4},{"x":238,"y":18.5},{"x":240,"y":17.5},{"x":243,"y":19.0},{"x":246,"y":18.3},{"x":248,"y":19.7},{"x":250,"y":17.9},{"x":253,"y":18.8},{"x":256,"y":19.3},{"x":258,"y":17.4},{"x":261,"y":18.5},{"x":264,"y":19.0},{"x":266,"y":17.8},{"x":270,"y":18.9},{"x":272,"y":18.2},{"x":276,"y":19.4},{"x":279,"y":17.6},{"x":282,"y":18.7},{"x":286,"y":19.8},{"x":289,"y":18.1},{"x":292,"y":19.2},{"x":296,"y":17.6},{"x":300,"y":18.6},{"x":304,"y":19.5},{"x":308,"y":17.9},{"x":312,"y":18.9},{"x":316,"y":19.6},{"x":320,"y":17.4},{"x":324,"y":18.4},{"x":328,"y":19.3},{"x":332,"y":17.9},{"x":336,"y":18.8},{"x":340,"y":19.7},{"x":344,"y":17.2},{"x":348,"y":18.5},{"x":352,"y":19.2},{"x":356,"y":17.7},{"x":360,"y":18.3},{"x":364,"y":19.6},{"x":368,"y":17.5},{"x":372,"y":18.8},{"x":376,"y":19.4},{"x":380,"y":17.9},{"x":384,"y":18.6},{"x":388,"y":19.7},{"x":392,"y":17.3},{"x":396,"y":18.4},{"x":400,"y":19.1},{"x":404,"y":17.8},{"x":408,"y":18.9},{"x":412,"y":19.5},{"x":416,"y":17.6},{"x":420,"y":18.2},{"x":424,"y":19.3},{"x":428,"y":17.9},{"x":432,"y":18.7},{"x":436,"y":19.6},{"x":438,"y":18.1},
      {"x":224,"y":18.9},{"x":229,"y":17.3},{"x":233,"y":19.8},{"x":237,"y":17.9},{"x":242,"y":18.0},{"x":245,"y":19.5},{"x":251,"y":18.4},{"x":255,"y":17.6},{"x":259,"y":19.1},{"x":263,"y":17.9},{"x":268,"y":19.6},{"x":274,"y":17.3},{"x":278,"y":18.4},{"x":284,"y":17.9},{"x":288,"y":19.4},{"x":294,"y":18.3},{"x":298,"y":19.9},{"x":302,"y":17.4},{"x":306,"y":18.2},{"x":310,"y":19.2},{"x":314,"y":17.6},{"x":318,"y":18.7},{"x":322,"y":19.9},{"x":326,"y":17.7},{"x":330,"y":18.3},{"x":334,"y":19.0},{"x":338,"y":17.5},{"x":342,"y":18.1},{"x":346,"y":19.4},{"x":350,"y":17.8},{"x":354,"y":18.9},{"x":358,"y":19.9},{"x":362,"y":17.3},{"x":366,"y":18.7},{"x":370,"y":19.1},{"x":374,"y":17.4},{"x":378,"y":18.3},{"x":382,"y":19.5},{"x":386,"y":17.6},{"x":390,"y":18.9},{"x":394,"y":19.9},{"x":398,"y":17.5},{"x":402,"y":18.6},{"x":406,"y":19.6},{"x":410,"y":17.8},{"x":414,"y":18.4},{"x":418,"y":19.8},{"x":422,"y":17.2},{"x":426,"y":18.6},{"x":430,"y":19.2},{"x":434,"y":17.6},{"x":438,"y":19.9},
      {"x":215,"y":16.2},{"x":216,"y":14.2},{"x":219,"y":15.3},{"x":221,"y":13.9},{"x":224,"y":16.6},{"x":226,"y":14.5},{"x":229,"y":15.8},{"x":231,"y":13.7},{"x":233,"y":16.9},{"x":236,"y":14.9},{"x":238,"y":15.5},{"x":241,"y":14.1},{"x":243,"y":16.4},{"x":246,"y":13.8},{"x":248,"y":15.1},{"x":251,"y":16.7},{"x":253,"y":14.4},{"x":256,"y":15.9},{"x":258,"y":13.6},{"x":261,"y":16.3},{"x":263,"y":14.8},{"x":266,"y":15.4},{"x":268,"y":13.9},{"x":271,"y":16.8},{"x":273,"y":14.2},{"x":276,"y":15.7},{"x":278,"y":13.6},{"x":281,"y":16.1},{"x":283,"y":14.6},{"x":286,"y":15.9},{"x":288,"y":13.8},{"x":291,"y":16.5},{"x":293,"y":14.3},{"x":296,"y":15.2},{"x":298,"y":16.9},{"x":301,"y":14.0},{"x":303,"y":15.8},{"x":306,"y":16.4},{"x":308,"y":14.5},{"x":311,"y":15.1},{"x":313,"y":16.8},{"x":316,"y":14.2},{"x":318,"y":15.6},{"x":321,"y":13.4},{"x":323,"y":16.2},{"x":326,"y":14.7},{"x":328,"y":13.3},{"x":331,"y":15.9},{"x":333,"y":16.6},{"x":336,"y":14.4},{"x":338,"y":15.3},{"x":341,"y":16.9},{"x":343,"y":14.0},{"x":346,"y":15.7},{"x":348,"y":16.3},{"x":351,"y":14.6},{"x":353,"y":15.1},{"x":356,"y":16.7},{"x":358,"y":13.9},{"x":361,"y":15.5},{"x":363,"y":16.1},{"x":366,"y":14.3},{"x":368,"y":16.8},{"x":371,"y":14.9},{"x":373,"y":15.8},{"x":376,"y":16.4},{"x":378,"y":14.1},{"x":381,"y":15.3},{"x":383,"y":16.6},{"x":385,"y":13.4},{"x":388,"y":14.7},{"x":390,"y":16.0},{"x":393,"y":15.4},{"x":395,"y":16.9},{"x":398,"y":14.2},{"x":400,"y":15.7},{"x":403,"y":13.7},{"x":405,"y":16.3},{"x":408,"y":14.5},{"x":410,"y":15.2},{"x":413,"y":16.7},{"x":415,"y":13.9},{"x":418,"y":15.0},{"x":420,"y":16.2},{"x":423,"y":14.4},{"x":425,"y":15.6},{"x":428,"y":16.5},{"x":430,"y":14.8},{"x":433,"y":15.3},{"x":435,"y":16.0},{"x":438,"y":14.6},
      {"x":217,"y":15.0},{"x":220,"y":16.8},{"x":223,"y":14.0},{"x":225,"y":15.6},{"x":228,"y":16.2},{"x":230,"y":14.6},{"x":232,"y":15.2},{"x":235,"y":16.0},{"x":237,"y":13.9},{"x":239,"y":15.9},{"x":242,"y":15.0},{"x":244,"y":16.9},{"x":247,"y":14.6},{"x":249,"y":16.2},{"x":252,"y":15.5},{"x":254,"y":13.9},{"x":257,"y":14.9},{"x":259,"y":16.5},{"x":262,"y":15.2},{"x":264,"y":14.0},{"x":267,"y":16.0},{"x":269,"y":15.0},{"x":272,"y":15.8},{"x":274,"y":16.5},{"x":277,"y":14.4},{"x":279,"y":15.4},{"x":282,"y":13.9},{"x":284,"y":16.6},{"x":287,"y":15.0},{"x":289,"y":16.3},{"x":292,"y":14.8},{"x":294,"y":15.7},{"x":297,"y":14.1},{"x":299,"y":15.9},{"x":302,"y":16.6},{"x":304,"y":14.7},{"x":307,"y":15.3},{"x":309,"y":13.8},{"x":312,"y":16.2},{"x":314,"y":15.5},{"x":317,"y":16.9},{"x":319,"y":14.9},{"x":322,"y":15.9},{"x":324,"y":14.1},{"x":327,"y":16.5},{"x":329,"y":15.2},{"x":332,"y":14.3},{"x":334,"y":15.6},{"x":337,"y":16.1},{"x":339,"y":14.8},{"x":342,"y":15.8},{"x":344,"y":16.6},{"x":347,"y":14.3},{"x":349,"y":15.1},{"x":352,"y":16.2},{"x":354,"y":14.8},{"x":357,"y":15.7},{"x":359,"y":16.9},{"x":362,"y":14.5},{"x":364,"y":15.9},{"x":367,"y":15.2},{"x":369,"y":14.0},{"x":372,"y":16.3},{"x":374,"y":15.1},{"x":377,"y":14.6},{"x":379,"y":16.0},{"x":382,"y":14.4},{"x":384,"y":15.9},{"x":387,"y":16.3},{"x":389,"y":15.0},{"x":392,"y":14.0},{"x":394,"y":16.4},{"x":397,"y":15.1},{"x":399,"y":16.6},{"x":402,"y":14.8},{"x":404,"y":15.9},{"x":407,"y":16.5},{"x":409,"y":14.1},{"x":412,"y":15.6},{"x":414,"y":16.3},{"x":417,"y":14.6},{"x":419,"y":15.4},{"x":422,"y":16.8},{"x":424,"y":15.0},{"x":427,"y":14.2},{"x":429,"y":15.9},{"x":432,"y":16.4},{"x":434,"y":14.3},{"x":437,"y":15.7},{"x":439,"y":16.3},
      {"x":383,"y":13.0},{"x":386,"y":12.6},{"x":389,"y":12.2},{"x":392,"y":11.8},{"x":395,"y":11.5},{"x":398,"y":12.9},{"x":402,"y":12.4},{"x":405,"y":13.3},{"x":408,"y":12.0},{"x":412,"y":11.6},{"x":416,"y":12.7},{"x":420,"y":13.1},{"x":422,"y":11.9},{"x":324,"y":13.1},{"x":330,"y":12.9},
      {"x":3,"y":15.1},{"x":6,"y":14.8},{"x":9,"y":15.3},{"x":12,"y":14.9},{"x":15,"y":15.2},{"x":17,"y":15.36},{"x":20,"y":14.7},{"x":23,"y":15.1},{"x":26,"y":14.8},{"x":30,"y":15.3},{"x":34,"y":14.6},{"x":38,"y":15.0},{"x":42,"y":14.7},{"x":46,"y":15.3},{"x":50,"y":14.8},{"x":54,"y":15.2},{"x":58,"y":14.6},{"x":62,"y":15.4},{"x":66,"y":14.9},{"x":70,"y":15.5},{"x":74,"y":14.8},{"x":78,"y":15.2},{"x":82,"y":14.7},{"x":86,"y":15.4},{"x":90,"y":15.0},{"x":94,"y":14.8},{"x":98,"y":15.5},{"x":102,"y":15.1},{"x":106,"y":15.7},{"x":110,"y":14.9},{"x":114,"y":15.4},{"x":118,"y":15.1},{"x":122,"y":15.8},{"x":126,"y":14.9},{"x":130,"y":15.5},{"x":134,"y":15.2},{"x":138,"y":15.8},{"x":142,"y":15.0},{"x":146,"y":15.6},{"x":150,"y":15.3},{"x":154,"y":15.9},{"x":158,"y":15.1},{"x":163.3,"y":16.15},{"x":163.3,"y":14.44},{"x":166,"y":15.6},{"x":170,"y":15.9},{"x":174,"y":15.3},{"x":178,"y":16.1},{"x":182,"y":15.6},{"x":186,"y":15.9},{"x":190,"y":15.2},{"x":194,"y":16.0},{"x":198,"y":15.5},{"x":202,"y":16.4},{"x":207.2,"y":17.35},{"x":207.2,"y":16.95},{"x":210,"y":15.8},{"x":231.7,"y":17.59},
      {"x":1,"y":15.0},{"x":8,"y":15.1},{"x":14,"y":14.7},{"x":19,"y":15.2},{"x":28,"y":15.0},{"x":32,"y":14.9},{"x":36,"y":15.3},{"x":40,"y":14.9},{"x":44,"y":15.5},{"x":48,"y":15.0},{"x":52,"y":14.6},{"x":56,"y":15.3},{"x":60,"y":14.9},{"x":64,"y":15.2},{"x":68,"y":14.7},{"x":72,"y":15.1},{"x":76,"y":15.4},{"x":80,"y":15.0},{"x":84,"y":15.2},{"x":88,"y":14.8},{"x":92,"y":15.5},{"x":96,"y":15.1},{"x":100,"y":15.4},{"x":104,"y":15.0},{"x":108,"y":15.3},{"x":112,"y":15.6},{"x":116,"y":15.0},{"x":120,"y":15.4},{"x":124,"y":15.2},{"x":128,"y":15.7},{"x":132,"y":15.3},{"x":136,"y":15.0},{"x":140,"y":15.5},{"x":144,"y":15.2},{"x":148,"y":15.8},{"x":152,"y":15.4},{"x":156,"y":15.6},{"x":160,"y":15.3},{"x":168,"y":15.2},{"x":176,"y":15.7},{"x":184,"y":15.4},{"x":192,"y":15.7},{"x":200,"y":16.0},{"x":205,"y":15.7},
      {"x":2,"y":10.2},{"x":5,"y":9.8},{"x":7.3,"y":10.42},{"x":7.3,"y":9.7},{"x":10,"y":10.1},{"x":13,"y":9.8},{"x":16,"y":10.3},{"x":19,"y":9.9},{"x":22,"y":10.2},{"x":25,"y":9.7},{"x":28,"y":10.4},{"x":31,"y":10.0},{"x":34,"y":9.8},{"x":38.9,"y":9.7},{"x":41.4,"y":10.66},{"x":42,"y":10.3},{"x":45,"y":9.9},{"x":48,"y":10.5},{"x":51,"y":10.1},{"x":54,"y":9.8},{"x":57,"y":10.4},{"x":60,"y":10.0},{"x":63,"y":10.6},{"x":66,"y":9.9},{"x":69,"y":10.4},{"x":72,"y":10.1},{"x":75,"y":10.7},{"x":78,"y":10.2},{"x":81,"y":10.5},{"x":84,"y":10.0},{"x":87,"y":10.7},{"x":90,"y":10.3},{"x":93,"y":10.9},{"x":95.1,"y":9.82},{"x":97,"y":10.4},{"x":100,"y":11.06},{"x":102,"y":10.6},{"x":104.8,"y":11.2},{"x":106,"y":10.2},{"x":109,"y":10.9},{"x":112,"y":11.3},{"x":115,"y":10.6},{"x":118,"y":11.1},{"x":121,"y":11.5},{"x":124,"y":10.9},{"x":127,"y":11.3},{"x":130,"y":11.7},{"x":133,"y":11.0},{"x":136,"y":11.5},{"x":139,"y":11.9},{"x":142,"y":11.3},{"x":145.6,"y":12.0},
      {"x":148.7,"y":8.19},{"x":151.2,"y":7.79},{"x":150,"y":8.9},{"x":152,"y":9.4},{"x":155,"y":8.6},{"x":157,"y":9.9},{"x":160,"y":9.2},{"x":163.3,"y":10.86},{"x":163,"y":8.8},{"x":166,"y":9.6},{"x":168.3,"y":7.95},{"x":170,"y":10.2},{"x":172,"y":9.0},{"x":173,"y":11.1},{"x":175.6,"y":11.77},{"x":176,"y":9.7},{"x":178,"y":8.35},{"x":180,"y":10.4},{"x":183,"y":9.3},{"x":186,"y":10.0},{"x":189,"y":10.7},{"x":192,"y":9.5},{"x":195,"y":10.3},{"x":198,"y":11.0},{"x":201,"y":9.6},{"x":204,"y":10.5},{"x":207,"y":9.2},{"x":210,"y":10.9},{"x":213,"y":9.8},{"x":216,"y":11.3},{"x":219,"y":10.4},{"x":222,"y":9.5},{"x":225,"y":10.8},{"x":228,"y":11.6},{"x":231,"y":9.9},{"x":234,"y":10.6},{"x":236.5,"y":11.45},{"x":238,"y":9.3},{"x":241,"y":10.2},{"x":244,"y":11.1},{"x":246.3,"y":8.98},{"x":249,"y":10.5},{"x":252,"y":9.6},{"x":255,"y":11.4},{"x":258,"y":10.1},{"x":261,"y":9.2},{"x":264,"y":10.7},{"x":267,"y":11.8},{"x":270,"y":9.7},{"x":273,"y":10.4},{"x":276,"y":11.2},{"x":278,"y":9.0},{"x":280.4,"y":8.35},{"x":283,"y":10.0},{"x":286,"y":11.5},{"x":289,"y":10.6},{"x":292,"y":9.4},{"x":295,"y":11.69},{"x":297,"y":10.2},{"x":300,"y":11.0},{"x":303,"y":9.6},{"x":306,"y":12.1},{"x":309,"y":10.8},{"x":312,"y":9.9},{"x":315,"y":11.4},{"x":318,"y":10.5},{"x":319.4,"y":9.14},{"x":322,"y":8.8},{"x":325,"y":11.8},{"x":328,"y":10.1},{"x":331,"y":12.4},{"x":334,"y":10.9},{"x":337,"y":9.7},{"x":340,"y":11.3},{"x":343.9,"y":8.59},{"x":346,"y":10.6},{"x":349,"y":11.9},{"x":352,"y":9.9},{"x":355,"y":11.0},{"x":358,"y":12.6},{"x":361,"y":10.4},{"x":364,"y":9.5},{"x":367,"y":11.5},{"x":370,"y":10.8},{"x":373.2,"y":8.87},{"x":376,"y":12.2},{"x":379,"y":9.8},{"x":382,"y":11.1},{"x":385,"y":10.5},{"x":388,"y":12.8},{"x":391,"y":9.6},{"x":394,"y":11.4},{"x":397,"y":10.3},{"x":400,"y":8.75},{"x":403,"y":12.0},{"x":406,"y":10.9},{"x":410,"y":11.69},{"x":413,"y":9.8},{"x":416,"y":12.5},{"x":419,"y":10.6},{"x":422,"y":11.2},{"x":426.8,"y":11.29},{"x":428,"y":9.5},{"x":431,"y":10.8},{"x":434,"y":12.3},{"x":437,"y":10.2},{"x":439,"y":11.0},
      {"x":154,"y":9.1},{"x":158,"y":10.3},{"x":162,"y":8.5},{"x":165,"y":10.5},{"x":169,"y":9.3},{"x":171,"y":11.4},{"x":174,"y":10.4},{"x":177,"y":9.1},{"x":181,"y":11.0},{"x":184,"y":9.8},{"x":187,"y":11.5},{"x":190,"y":10.0},{"x":193,"y":9.2},{"x":196,"y":11.3},{"x":199,"y":10.1},{"x":202,"y":11.8},{"x":205,"y":9.8},{"x":208,"y":11.1},{"x":211,"y":10.0},{"x":214,"y":9.4},{"x":217,"y":10.8},{"x":220,"y":12.0},{"x":223,"y":10.5},{"x":226,"y":9.8},{"x":229,"y":10.4},{"x":232,"y":11.1},{"x":235,"y":9.6},{"x":239,"y":12.2},{"x":242,"y":10.8},{"x":245,"y":9.7},{"x":248,"y":11.6},{"x":251,"y":10.3},{"x":254,"y":9.9},{"x":257,"y":12.4},{"x":260,"y":11.0},{"x":263,"y":9.6},{"x":266,"y":10.9},{"x":269,"y":12.0},{"x":272,"y":11.0},{"x":275,"y":9.4},{"x":279,"y":10.8},{"x":282,"y":11.9},{"x":285,"y":9.6},{"x":288,"y":12.3},{"x":291,"y":10.9},{"x":294,"y":9.9},{"x":298,"y":11.2},{"x":301,"y":12.4},{"x":305,"y":10.4},{"x":308,"y":9.3},{"x":311,"y":11.3},{"x":314,"y":10.0},{"x":317,"y":12.2},{"x":321,"y":10.7},{"x":324,"y":9.6},{"x":327,"y":11.1},{"x":330,"y":9.9},{"x":333,"y":11.6},{"x":336,"y":10.5},{"x":339,"y":12.6},{"x":342,"y":9.8},{"x":345,"y":11.2},{"x":348,"y":9.6},{"x":351,"y":10.9},{"x":354,"y":12.3},{"x":357,"y":9.4},{"x":360,"y":11.7},{"x":363,"y":10.7},{"x":366,"y":12.5},{"x":369,"y":9.9},{"x":372,"y":11.1},{"x":375,"y":10.0},{"x":378,"y":11.8},{"x":381,"y":10.3},{"x":384,"y":9.4},{"x":387,"y":11.3},{"x":390,"y":10.4},{"x":393,"y":12.0},{"x":396,"y":9.9},{"x":399,"y":11.0},{"x":402,"y":10.2},{"x":405,"y":11.8},{"x":408,"y":9.6},{"x":411,"y":10.5},{"x":414,"y":11.3},{"x":417,"y":9.6},{"x":420,"y":12.1},{"x":423,"y":10.3},{"x":426,"y":9.8},{"x":429,"y":11.6},{"x":432,"y":10.0},{"x":435,"y":11.4},{"x":438,"y":9.7},
      {"x":2,"y":5.2},{"x":4,"y":4.8},{"x":6,"y":5.4},{"x":8,"y":4.9},{"x":10,"y":5.1},{"x":12,"y":4.7},{"x":14,"y":5.3},{"x":17.1,"y":4.37},{"x":18,"y":5.0},{"x":20,"y":5.5},{"x":22,"y":6.52},{"x":22,"y":6.12},{"x":24,"y":5.2},{"x":26,"y":4.8},{"x":28,"y":5.6},{"x":30,"y":5.0},{"x":32,"y":4.6},{"x":34,"y":5.3},{"x":36,"y":4.9},{"x":38,"y":5.5},{"x":40,"y":4.7},{"x":42,"y":5.2},{"x":44,"y":5.8},{"x":46,"y":4.9},{"x":48,"y":5.4},{"x":50,"y":4.6},{"x":52,"y":5.1},{"x":54,"y":5.6},{"x":56,"y":4.8},{"x":58,"y":5.3},{"x":60,"y":5.7},{"x":62,"y":4.9},{"x":64,"y":5.2},{"x":66,"y":4.6},{"x":68,"y":5.5},{"x":70,"y":5.0},{"x":72,"y":5.8},{"x":74,"y":4.8},{"x":76,"y":5.3},{"x":78,"y":4.5},{"x":80,"y":5.6},{"x":82,"y":5.0},{"x":84,"y":4.7},{"x":86,"y":5.4},{"x":88,"y":5.9},{"x":90,"y":4.9},{"x":92,"y":5.3},{"x":94,"y":4.6},{"x":96,"y":5.5},{"x":97.5,"y":6.91},{"x":97.5,"y":6.44},{"x":98,"y":6.1},{"x":100,"y":3.73},{"x":100,"y":3.41},{"x":100,"y":2.47},{"x":101,"y":5.2},{"x":103,"y":4.4},{"x":104.8,"y":4.52},{"x":106,"y":5.7},{"x":108,"y":4.9},{"x":109.8,"y":5.8},{"x":111,"y":5.3},{"x":113,"y":4.7},{"x":115,"y":5.5},{"x":117,"y":4.9},{"x":119,"y":5.6},{"x":121,"y":5.1},{"x":123,"y":4.7},{"x":125,"y":5.4},{"x":127,"y":5.0},
      {"x":165,"y":5.3},{"x":168,"y":4.8},{"x":171,"y":5.5},{"x":174,"y":4.6},{"x":178,"y":4.2},{"x":178,"y":4.0},{"x":180,"y":5.2},{"x":183,"y":4.7},{"x":186,"y":5.6},{"x":189,"y":4.9},{"x":192,"y":5.4},{"x":195,"y":4.6},{"x":198,"y":5.7},{"x":201,"y":5.0},{"x":204,"y":4.5},{"x":207,"y":5.5},{"x":210,"y":4.8},{"x":213,"y":5.9},{"x":216,"y":5.2},{"x":219,"y":4.6},{"x":222,"y":6.1},{"x":225,"y":5.0},{"x":228,"y":4.3},{"x":231,"y":5.6},{"x":234,"y":4.9},{"x":237,"y":6.3},{"x":240,"y":4.1},{"x":243,"y":5.4},{"x":246,"y":4.7},{"x":249,"y":6.0},{"x":252,"y":3.9},{"x":255,"y":5.2},{"x":258,"y":6.6},{"x":261,"y":4.5},{"x":264,"y":5.7},{"x":267,"y":4.0},{"x":270.8,"y":6.83},{"x":272,"y":5.0},{"x":275,"y":3.7},{"x":278,"y":5.9},{"x":281,"y":4.4},{"x":284,"y":6.4},{"x":287,"y":5.1},{"x":290,"y":3.8},{"x":293,"y":5.6},{"x":296,"y":4.6},{"x":299,"y":6.2},{"x":302,"y":4.2},{"x":305,"y":5.4},{"x":308,"y":3.6},{"x":309.7,"y":2.69},{"x":311,"y":6.0},{"x":314,"y":4.8},{"x":317,"y":5.7},{"x":318,"y":2.9},{"x":320,"y":4.0},{"x":322,"y":7.07},{"x":323,"y":6.5},{"x":326,"y":5.2},{"x":329,"y":3.7},{"x":332,"y":5.9},{"x":335,"y":4.5},{"x":338,"y":6.8},{"x":341.5,"y":3.17},{"x":342,"y":5.0},{"x":345,"y":3.9},{"x":348,"y":6.1},{"x":351,"y":4.7},{"x":354,"y":5.6},{"x":357,"y":4.2},{"x":360,"y":6.7},{"x":363.4,"y":7.07},{"x":364,"y":5.3},{"x":367,"y":4.0},{"x":370,"y":5.8},{"x":373.2,"y":3.17},{"x":374,"y":4.6},{"x":377,"y":6.3},{"x":380,"y":5.1},{"x":383,"y":3.8},{"x":386,"y":5.7},{"x":389,"y":4.4},{"x":392,"y":6.0},{"x":395,"y":4.9},{"x":398,"y":5.5},{"x":401,"y":4.1},{"x":404,"y":5.9},{"x":407,"y":4.7},{"x":410,"y":5.3},{"x":413,"y":6.4},{"x":416,"y":4.5},{"x":419,"y":5.6},{"x":422,"y":2.57},{"x":423,"y":5.0},{"x":426,"y":7.1},{"x":427,"y":4.3},{"x":430,"y":5.7},{"x":433,"y":4.8},{"x":436,"y":5.4},{"x":439,"y":5.0},
      {"x":167,"y":5.1},{"x":170,"y":4.6},{"x":173,"y":5.3},{"x":176,"y":4.9},{"x":179,"y":5.6},{"x":182,"y":5.0},{"x":185,"y":4.5},{"x":188,"y":5.3},{"x":191,"y":4.8},{"x":194,"y":5.8},{"x":197,"y":5.2},{"x":200,"y":4.7},{"x":203,"y":5.4},{"x":206,"y":4.9},{"x":209,"y":5.8},{"x":212,"y":5.2},{"x":215,"y":4.6},{"x":218,"y":5.5},{"x":221,"y":5.0},{"x":224,"y":5.7},{"x":227,"y":4.9},{"x":230,"y":6.0},{"x":233,"y":5.3},{"x":236,"y":4.5},{"x":239,"y":5.8},{"x":242,"y":5.1},{"x":245,"y":6.2},{"x":248,"y":5.4},{"x":251,"y":4.6},{"x":254,"y":6.3},{"x":257,"y":5.0},{"x":260,"y":5.6},{"x":263,"y":6.1},{"x":266,"y":5.2},{"x":269,"y":4.7},{"x":273,"y":5.5},{"x":276,"y":6.3},{"x":279,"y":4.8},{"x":282,"y":5.5},{"x":286,"y":6.1},{"x":289,"y":4.5},{"x":292,"y":5.9},{"x":295,"y":5.2},{"x":298,"y":4.1},{"x":301,"y":6.5},{"x":304,"y":5.0},{"x":307,"y":5.8},{"x":310,"y":4.5},{"x":313,"y":6.3},{"x":316,"y":5.1},{"x":319,"y":6.5},{"x":322,"y":4.3},{"x":325,"y":5.7},{"x":328,"y":6.2},{"x":331,"y":4.8},{"x":334,"y":5.5},{"x":337,"y":4.0},{"x":340,"y":6.3},{"x":343,"y":5.7},{"x":346,"y":4.6},{"x":349,"y":5.3},{"x":352,"y":6.5},{"x":355,"y":5.0},{"x":358,"y":3.9},{"x":361,"y":5.5},{"x":365,"y":6.2},{"x":368,"y":4.8},{"x":371,"y":6.5},{"x":375,"y":5.4},{"x":378,"y":4.3},{"x":381,"y":5.9},{"x":384,"y":6.8},{"x":387,"y":5.0},{"x":390,"y":4.2},{"x":393,"y":5.5},{"x":396,"y":6.3},{"x":399,"y":4.6},{"x":402,"y":5.8},{"x":405,"y":5.1},{"x":408,"y":6.1},{"x":411,"y":4.9},{"x":414,"y":5.4},{"x":417,"y":4.3},{"x":420,"y":6.0},{"x":424,"y":5.3},{"x":428,"y":5.9},{"x":431,"y":4.6},{"x":434,"y":6.2},{"x":437,"y":5.2},
      {"x":145,"y":0.2},{"x":147,"y":-0.4},{"x":149,"y":0.5},{"x":151,"y":-0.1},{"x":153.7,"y":-0.73},{"x":155,"y":0.3},{"x":156.1,"y":0.55},{"x":158,"y":-0.3},{"x":160,"y":0.1},{"x":162,"y":-0.5},{"x":164,"y":0.4},{"x":166,"y":-0.2},{"x":168,"y":0.6},{"x":170,"y":0.0},{"x":172,"y":-0.4},{"x":174,"y":0.3},{"x":175.6,"y":-0.57},{"x":178,"y":0.1},{"x":180,"y":0.5},{"x":182,"y":-0.3},{"x":184,"y":0.2},{"x":186,"y":0.7},{"x":188,"y":-0.1},{"x":190,"y":0.4},{"x":192,"y":-0.5},{"x":194,"y":0.1},{"x":196,"y":0.6},{"x":198,"y":-0.2},{"x":200,"y":0.3},{"x":202,"y":0.8},{"x":204,"y":-0.4},{"x":206,"y":0.2},{"x":208,"y":0.6},{"x":210,"y":-0.1},{"x":212,"y":0.4},{"x":214,"y":0.9},{"x":216,"y":-0.3},{"x":218,"y":0.5},{"x":220,"y":0.1},{"x":222,"y":1.0},{"x":224,"y":-0.5},{"x":226.8,"y":0.86},{"x":228,"y":0.2},{"x":230,"y":-0.2},{"x":232,"y":0.6},{"x":234,"y":1.2},{"x":236,"y":-0.6},{"x":238,"y":0.4},{"x":240,"y":0.9},{"x":242,"y":-0.3},{"x":244,"y":1.4},{"x":246.3,"y":-1.85},{"x":247,"y":0.2},{"x":249,"y":0.7},{"x":251,"y":-0.45},{"x":253,"y":1.1},{"x":255,"y":0.0},{"x":257,"y":0.6},{"x":260.9,"y":1.30},{"x":261,"y":-0.8},{"x":263,"y":0.3},{"x":265,"y":1.6},{"x":267,"y":0.8},{"x":269,"y":-0.3},{"x":270.8,"y":-0.97},{"x":272,"y":0.5},{"x":274,"y":1.2},{"x":276,"y":-0.1},{"x":278,"y":0.7},{"x":280,"y":1.8},{"x":282,"y":-0.5},{"x":284,"y":0.3},{"x":286,"y":1.0},{"x":288,"y":-1.1},{"x":290,"y":0.6},{"x":292,"y":1.4},{"x":294,"y":-0.2},{"x":296,"y":0.9},{"x":298,"y":0.2},{"x":300,"y":1.7},{"x":302,"y":-0.6},{"x":304,"y":0.4},{"x":306,"y":1.1},{"x":308,"y":-0.2},{"x":309.7,"y":2.0},{"x":309.7,"y":1.44},{"x":311,"y":0.7},{"x":313,"y":-0.9},{"x":314.6,"y":-1.61},{"x":315,"y":-1.2},{"x":316,"y":0.3},{"x":318,"y":1.0},{"x":320,"y":-0.4},{"x":322,"y":0.6},{"x":324,"y":1.5},{"x":326,"y":-0.1},{"x":328,"y":0.8},{"x":330,"y":0.2},{"x":332,"y":1.2},{"x":334,"y":-0.6},{"x":336,"y":0.5},{"x":338,"y":1.8},{"x":340,"y":0.0},{"x":342,"y":0.9},{"x":344,"y":-0.3},{"x":346,"y":1.4},{"x":348,"y":0.4},{"x":350,"y":-0.8},{"x":352,"y":1.0},{"x":354,"y":0.2},{"x":356,"y":1.6},{"x":358,"y":-0.4},{"x":360,"y":0.7},{"x":362,"y":1.2},{"x":364,"y":-0.1},{"x":366,"y":0.5},{"x":368.2,"y":-0.73},{"x":370,"y":1.3},{"x":372,"y":0.3},{"x":374,"y":0.9},{"x":376,"y":-0.3},{"x":378,"y":1.55},{"x":380,"y":0.5},{"x":382,"y":1.0},{"x":384,"y":-0.5},{"x":386,"y":0.7},{"x":388,"y":1.4},{"x":390,"y":0.0},{"x":392,"y":0.8},{"x":394,"y":-0.3},{"x":396,"y":1.2},{"x":398,"y":0.4},{"x":400,"y":1.7},{"x":402,"y":-0.2},{"x":404,"y":0.6},{"x":406,"y":1.1},{"x":408,"y":-0.6},{"x":410,"y":0.5},{"x":412,"y":1.4},{"x":414,"y":0.0},{"x":416,"y":0.9},{"x":418,"y":-0.4},{"x":420,"y":0.6},{"x":421.9,"y":2.57},{"x":421.9,"y":2.01},{"x":421.9,"y":-0.73},{"x":421.9,"y":-1.97},{"x":424,"y":1.0},{"x":426,"y":0.2},{"x":428,"y":-0.4},{"x":429.3,"y":1.7},{"x":431,"y":0.7},{"x":433,"y":1.3},{"x":435,"y":0.1},{"x":437,"y":0.8},{"x":439,"y":-0.2},
      {"x":146,"y":-0.1},{"x":150,"y":0.3},{"x":154,"y":0.0},{"x":157,"y":-0.5},{"x":159,"y":0.4},{"x":163,"y":-0.1},{"x":167,"y":0.2},{"x":171,"y":-0.6},{"x":173,"y":0.5},{"x":177,"y":-0.2},{"x":181,"y":0.3},{"x":185,"y":-0.4},{"x":189,"y":0.6},{"x":193,"y":0.2},{"x":197,"y":-0.3},{"x":201,"y":0.0},{"x":205,"y":0.5},{"x":209,"y":-0.3},{"x":213,"y":0.7},{"x":217,"y":0.2},{"x":221,"y":-0.2},{"x":225,"y":0.4},{"x":229,"y":1.0},{"x":233,"y":-0.1},{"x":237,"y":0.7},{"x":241,"y":1.3},{"x":245,"y":0.0},{"x":248,"y":1.0},{"x":252,"y":0.3},{"x":256,"y":1.4},{"x":259,"y":-0.4},{"x":262,"y":0.9},{"x":266,"y":-0.5},{"x":268,"y":1.3},{"x":271,"y":0.1},{"x":275,"y":0.6},{"x":279,"y":-0.7},{"x":283,"y":1.2},{"x":287,"y":0.0},{"x":291,"y":-0.4},{"x":295,"y":1.5},{"x":299,"y":0.5},{"x":303,"y":1.1},{"x":307,"y":0.2},{"x":312,"y":1.6},{"x":317,"y":0.6},{"x":321,"y":-0.6},{"x":325,"y":0.4},{"x":329,"y":1.4},{"x":333,"y":0.0},{"x":337,"y":-0.9},{"x":341,"y":1.3},{"x":345,"y":0.3},{"x":349,"y":1.8},{"x":353,"y":0.5},{"x":357,"y":-0.2},{"x":361,"y":1.1},{"x":365,"y":1.9},{"x":369,"y":0.2},{"x":373,"y":-0.4},{"x":377,"y":0.6},{"x":381,"y":1.9},{"x":385,"y":0.1},{"x":389,"y":-0.9},{"x":393,"y":1.1},{"x":397,"y":0.0},{"x":401,"y":0.8},{"x":405,"y":2.0},{"x":409,"y":0.2},{"x":413,"y":-0.8},{"x":417,"y":1.2},{"x":419,"y":0.3},{"x":423,"y":0.5},{"x":427,"y":1.2},{"x":430,"y":-0.6},{"x":434,"y":0.5},{"x":438,"y":1.2}
    ],
    "rb": [
      {"x":48.7,"y":20.04},{"x":68.2,"y":20.06},{"x":87.8,"y":20.07},{"x":107.3,"y":20.10},{"x":126.7,"y":20.10},{"x":146.3,"y":20.14},{"x":165.8,"y":20.07},{"x":185.3,"y":20.15},{"x":204.9,"y":20.41},
      {"x":46.3,"y":15.08},{"x":65.9,"y":15.16},{"x":85.3,"y":15.13},{"x":107.3,"y":15.18},{"x":126.7,"y":15.18},{"x":146.3,"y":15.24},{"x":168.3,"y":15.36},{"x":186.7,"y":15.53},{"x":207.2,"y":16.27},
      {"x":41.4,"y":10.14},{"x":60.9,"y":10.16},{"x":80.5,"y":10.22},{"x":100.0,"y":10.30},{"x":121.9,"y":10.58},{"x":141.4,"y":11.14},{"x":179.0,"y":9.90},{"x":199.9,"y":9.82},{"x":219.5,"y":10.00},
      {"x":41.4,"y":5.08},{"x":60.9,"y":5.14},{"x":80.5,"y":4.96},{"x":178.0,"y":4.88},{"x":199.9,"y":4.96},{"x":219.5,"y":5.00},
      {"x":174.1,"y":-0.10},{"x":192.6,"y":-0.02},{"x":213.1,"y":0.02}
    ],
    "kb": [
      {"g":1,"x":4.8,"y":19.99},{"g":1,"x":31.6,"y":19.97},{"g":1,"x":43.9,"y":20.02},{"g":1,"x":70.7,"y":19.94},{"g":1,"x":85.3,"y":20.04},{"g":1,"x":95.1,"y":19.95},{"g":1,"x":107.3,"y":20.07},{"g":1,"x":124.4,"y":20.06},{"g":1,"x":141.4,"y":20.14},{"g":1,"x":158.5,"y":20.16},{"g":1,"x":173.1,"y":20.03},{"g":1,"x":187.8,"y":20.10},{"g":1,"x":199.9,"y":20.15},{"g":1,"x":212.2,"y":20.41},{"g":1,"x":224.4,"y":20.69},{"g":1,"x":230.7,"y":20.85},
      {"g":2,"x":231.7,"y":18.42},{"g":2,"x":234.1,"y":18.70},{"g":2,"x":243.9,"y":19.26},{"g":2,"x":253.6,"y":19.30},{"g":2,"x":261.0,"y":19.26},{"g":2,"x":268.3,"y":19.02},{"g":2,"x":275.6,"y":18.82},{"g":2,"x":280.5,"y":18.58},
      {"g":3,"x":281.4,"y":21.73},{"g":3,"x":284.4,"y":21.41},{"g":3,"x":290.2,"y":20.93},{"g":3,"x":297.5,"y":20.53},{"g":3,"x":304.8,"y":20.21},{"g":3,"x":317.0,"y":19.94},{"g":3,"x":334.1,"y":19.91},{"g":3,"x":358.6,"y":19.94},{"g":3,"x":378.0,"y":19.90},{"g":3,"x":392.6,"y":19.86},{"g":3,"x":409.8,"y":19.70},{"g":3,"x":417.1,"y":19.78},{"g":3,"x":425.9,"y":19.94},
      {"g":4,"x":4.8,"y":15.00},{"g":4,"x":26.8,"y":14.96},{"g":4,"x":36.6,"y":14.89},{"g":4,"x":43.9,"y":14.96},{"g":4,"x":56.1,"y":15.00},{"g":4,"x":70.7,"y":15.08},{"g":4,"x":85.3,"y":15.08},{"g":4,"x":100,"y":15.16},{"g":4,"x":119.4,"y":15.20},{"g":4,"x":136.5,"y":15.24},{"g":4,"x":153.7,"y":15.32},{"g":4,"x":165.8,"y":15.44},{"g":4,"x":175.6,"y":15.68},{"g":4,"x":182.9,"y":15.68},{"g":4,"x":192.6,"y":15.48},{"g":4,"x":199.9,"y":15.68},{"g":4,"x":204.9,"y":16.07},{"g":4,"x":209.7,"y":16.47},{"g":4,"x":213.7,"y":16.71},
      {"g":5,"x":212.2,"y":14.76},{"g":5,"x":217.0,"y":14.68},{"g":5,"x":226.8,"y":14.68},{"g":5,"x":239.0,"y":14.84},{"g":5,"x":248.8,"y":14.88},{"g":5,"x":258.5,"y":14.80},{"g":5,"x":273.1,"y":14.64},{"g":5,"x":280.4,"y":14.76},{"g":5,"x":285.4,"y":15.04},{"g":5,"x":290.2,"y":15.36},{"g":5,"x":292.7,"y":15.52},{"g":5,"x":297.5,"y":15.40},{"g":5,"x":300,"y":15.52},{"g":5,"x":307.3,"y":15.68},{"g":5,"x":317.0,"y":15.52},{"g":5,"x":324.3,"y":15.32},{"g":5,"x":331.6,"y":15.24},{"g":5,"x":338.9,"y":15.40},{"g":5,"x":346.3,"y":15.48},{"g":5,"x":353.6,"y":15.32},{"g":5,"x":360.9,"y":15.12},{"g":5,"x":368.2,"y":15.28},{"g":5,"x":378.0,"y":15.48},{"g":5,"x":385.3,"y":15.36},{"g":5,"x":395.1,"y":15.00},{"g":5,"x":400,"y":14.84},{"g":5,"x":407.3,"y":14.92},{"g":5,"x":417.1,"y":15.00},{"g":5,"x":425.9,"y":15.00},
      {"g":6,"x":0,"y":10.02},{"g":6,"x":17.1,"y":10.04},{"g":6,"x":31.6,"y":10.06},{"g":6,"x":46.3,"y":10.08},{"g":6,"x":60.9,"y":10.12},{"g":6,"x":73.2,"y":10.16},{"g":6,"x":82.9,"y":10.18},{"g":6,"x":95.1,"y":10.26},{"g":6,"x":104.8,"y":10.38},{"g":6,"x":114.6,"y":10.54},{"g":6,"x":124.4,"y":10.82},{"g":6,"x":134.1,"y":11.14},{"g":6,"x":141.4,"y":11.37},{"g":6,"x":148.7,"y":11.61},
      {"g":7,"x":148.7,"y":8.59},{"g":7,"x":153.7,"y":8.98},{"g":7,"x":161.0,"y":9.30},{"g":7,"x":170.7,"y":9.50},{"g":7,"x":180.4,"y":9.66},{"g":7,"x":192.6,"y":9.82},{"g":7,"x":202.4,"y":9.94},{"g":7,"x":217.0,"y":10.02},{"g":7,"x":231.7,"y":10.10},{"g":7,"x":246.3,"y":10.18},{"g":7,"x":260.9,"y":10.26},{"g":7,"x":275.6,"y":10.34},{"g":7,"x":290.2,"y":10.30},{"g":7,"x":304.8,"y":10.30},{"g":7,"x":319.4,"y":10.43},{"g":7,"x":326.8,"y":10.50},{"g":7,"x":338.9,"y":10.40},{"g":7,"x":348.7,"y":10.30},{"g":7,"x":356.1,"y":10.14},
      {"g":8,"x":378.0,"y":9.98},{"g":8,"x":385.3,"y":10.06},{"g":8,"x":390.2,"y":10.22},{"g":8,"x":400.0,"y":10.26},{"g":8,"x":412.1,"y":10.18},{"g":8,"x":426.8,"y":10.10},{"g":8,"x":439.0,"y":10.08},
      {"g":9,"x":0,"y":5.00},{"g":9,"x":17.1,"y":5.04},{"g":9,"x":31.6,"y":5.12},{"g":9,"x":41.4,"y":5.08},{"g":9,"x":51.2,"y":5.10},{"g":9,"x":63.4,"y":5.12},{"g":9,"x":73.2,"y":5.08},{"g":9,"x":82.9,"y":5.20},{"g":9,"x":90.2,"y":5.08},{"g":9,"x":100.0,"y":4.92},{"g":9,"x":107.3,"y":4.84},{"g":9,"x":114.6,"y":5.00},{"g":9,"x":124.4,"y":5.02},
      {"g":10,"x":168.3,"y":5.00},{"g":10,"x":175.6,"y":4.91},{"g":10,"x":185.3,"y":4.96},{"g":10,"x":197.6,"y":5.07},{"g":10,"x":212.2,"y":5.10},{"g":10,"x":226.8,"y":5.07},{"g":10,"x":241.5,"y":5.12},{"g":10,"x":256.1,"y":5.04},{"g":10,"x":265.8,"y":5.02},{"g":10,"x":275.6,"y":5.08},{"g":10,"x":285.4,"y":5.16},{"g":10,"x":295.1,"y":5.28},{"g":10,"x":304.8,"y":5.20},{"g":10,"x":319.4,"y":5.14},{"g":10,"x":334.1,"y":5.10},{"g":10,"x":343.9,"y":5.04},{"g":10,"x":351.2,"y":4.96},{"g":10,"x":358.6,"y":5.08},{"g":10,"x":368.2,"y":5.16},{"g":10,"x":382.9,"y":5.20},{"g":10,"x":392.6,"y":5.28},{"g":10,"x":407.3,"y":5.20},{"g":10,"x":421.9,"y":5.23},{"g":10,"x":439.0,"y":5.18},
      {"g":11,"x":143.9,"y":-0.02},{"g":11,"x":153.7,"y":-0.03},{"g":11,"x":168.3,"y":0.06},{"g":11,"x":182.9,"y":0.02},{"g":11,"x":197.6,"y":0.00},{"g":11,"x":212.2,"y":0.02},{"g":11,"x":221.9,"y":0.02},{"g":11,"x":231.7,"y":0.14},{"g":11,"x":239.0,"y":0.26},{"g":11,"x":246.3,"y":0.34},{"g":11,"x":256.1,"y":0.29},{"g":11,"x":270.8,"y":0.22},{"g":11,"x":285.4,"y":0.18},{"g":11,"x":300.0,"y":0.06},{"g":11,"x":309.7,"y":-0.02},{"g":11,"x":317.0,"y":0.02},{"g":11,"x":324.3,"y":0.14},{"g":11,"x":334.1,"y":0.16},{"g":11,"x":348.7,"y":0.18},{"g":11,"x":358.6,"y":0.21},{"g":11,"x":368.2,"y":0.14},{"g":11,"x":378.0,"y":0.29},{"g":11,"x":385.3,"y":0.34},{"g":11,"x":392.6,"y":0.26},{"g":11,"x":402.4,"y":0.18},{"g":11,"x":412.1,"y":0.34},{"g":11,"x":421.9,"y":0.14},{"g":11,"x":431.7,"y":0.02}
    ],
    "db": [
      {"x":230.2,"y":21.05},{"x":279.5,"y":18.45},{"x":361,"y":10.05},{"x":366,"y":10.0},{"x":371,"y":9.98},{"x":281.4,"y":21.85}
    ],
    "lb": [
      {"t":"a5","x":439.5,"y":19},{"t":"a4","x":439.5,"y":14},{"t":"a3","x":439.5,"y":9},{"t":"a2","x":439.5,"y":4},{"t":"a1","x":439.5,"y":-1}
    ]
  },
  "hconcat": [
    {
      "width": 301,
      "height": 1087,
      "title": {"text": "(a)", "dx": -23},
      "layer": [
        {
          "data": {"name": "ga"},
          "mark": {"type": "circle", "size": 169, "opacity": 1, "clip": true},
          "encoding": {
            "x": {"field": "x", "type": "quantitative", "title": "Range Distance [km]", "scale": {"domain": [-0.9, 160.3], "nice": false, "zero": false},
                  "axis": {"values": [0, 50, 100, 150], "tickSize": 6, "labelFlush": false, "titlePadding": 6}},
            "y": {"field": "y", "type": "quantitative", "scale": {"domain": [-2, 24], "nice": false, "zero": false},
                  "axis": {"orient": "right", "values": [-2,-1,0,1,2,3,4,5,6,7,8,9,10,11,12,13,14,15,16,17,18,19,20,21,22,23,24], "labels": false, "title": null,
                           "tickSize": {"condition": {"test": "datum.value % 4 === 0", "value": 7}, "value": 5}}},
            "color": {
              "datum": "Azimuth offsets",
              "scale": {"domain": ["BOI", "Azimuth offsets", "KF"], "range": ["#ff0000", "#aaaaaa", "#000000"]},
              "legend": {
                "title": null, "orient": "none", "legendX": 760, "legendY": 470, "padding": 0,
                "labelFont": "Lato", "labelFontSize": 29, "labelColor": "black", "labelOffset": 18, "labelLimit": 400,
                "rowPadding": 10, "symbolSize": 880, "symbolStrokeWidth": 0,
                "encode": {
                  "symbols": {
                    "shape": {"value": "M-0.85,0A0.85,1,0,1,1,0.85,0A0.85,1,0,1,1,-0.85,0Z"},
                    "size": {"condition": {"test": "datum.value === 'KF'", "value": 190}, "value": 880},
                    "fill": {"condition": [{"test": "datum.value === 'BOI'", "value": "#ff0000"}, {"test": "datum.value === 'KF'", "value": "#000000"}], "value": "#bdbdbd"},
                    "opacity": {"value": 1}
                  }
                }
              }
            }
          }
        },
        {
          "data": {"name": "ra"},
          "mark": {"type": "circle", "size": 49, "opacity": 1},
          "encoding": {
            "x": {"field": "x", "type": "quantitative", "title": "Range Distance [km]"},
            "y": {"field": "y", "type": "quantitative", "axis": null},
            "color": {"datum": "BOI"}
          }
        },
        {
          "data": {"name": "ka"},
          "mark": {"type": "line", "color": "black", "strokeWidth": 4.5, "strokeCap": "round", "strokeJoin": "round"},
          "encoding": {
            "x": {"field": "x", "type": "quantitative", "title": "Range Distance [km]"},
            "y": {"field": "y", "type": "quantitative", "axis": null},
            "detail": {"field": "g", "type": "nominal"}
          }
        },
        {
          "data": {"name": "da"},
          "mark": {"type": "circle", "size": 22, "color": "black", "opacity": 1},
          "encoding": {
            "x": {"field": "x", "type": "quantitative", "title": "Range Distance [km]"},
            "y": {"field": "y", "type": "quantitative", "axis": null}
          }
        },
        {
          "data": {"name": "la"},
          "mark": {"type": "text", "align": "right", "baseline": "middle", "font": "Liberation Sans", "fontSize": 23, "fontWeight": "bold", "color": "black"},
          "encoding": {
            "x": {"field": "x", "type": "quantitative", "title": "Range Distance [km]"},
            "y": {"field": "y", "type": "quantitative", "axis": null},
            "text": {"field": "t"}
          }
        }
      ]
    },
    {
      "width": 301,
      "height": 1087,
      "title": {"text": "(b)", "dx": -22},
      "resolve": {"axis": {"y": "independent"}},
      "layer": [
        {
          "data": {"name": "gb"},
          "mark": {"type": "circle", "size": 169, "opacity": 1, "clip": true},
          "encoding": {
            "x": {"field": "x", "type": "quantitative", "title": "Azimuth Distance [km]", "scale": {"domain": [0, 440.6], "nice": false, "zero": false},
                  "axis": {"values": [0, 100, 200, 300, 400], "tickSize": 6, "labelFlush": false, "titlePadding": 6}},
            "y": {"field": "y", "type": "quantitative", "scale": {"domain": [-2, 24], "nice": false, "zero": false},
                  "axis": {"orient": "left", "values": [-2,-1,0,1,2,3,4,5,6,7,8,9,10,11,12,13,14,15,16,17,18,19,20,21,22,23,24], "labels": false, "title": null,
                           "tickSize": {"condition": {"test": "datum.value % 4 === 0", "value": 7}, "value": 5}}},
            "color": {"datum": "Azimuth offsets"}
          }
        },
        {
          "data": {"name": "rb"},
          "mark": {"type": "circle", "size": 250, "opacity": 1},
          "encoding": {
            "x": {"field": "x", "type": "quantitative", "title": "Azimuth Distance [km]"},
            "y": {"field": "y", "type": "quantitative",
                  "axis": {"orient": "right", "values": [-2,-1,0,1,2,3,4,5,6,7,8,9,10,11,12,13,14,15,16,17,18,19,20,21,22,23,24],
                           "labelExpr": "datum.value % 4 === 0 ? datum.label : ''", "labelOverlap": false, "labelPadding": 3,
                           "title": "Displacement [m]", "titleAngle": 270, "titleBaseline": "top", "titlePadding": 8, "titleFontSize": 23,
                           "tickSize": {"condition": {"test": "datum.value % 4 === 0", "value": 7}, "value": 5}}},
            "color": {"datum": "BOI"}
          }
        },
        {
          "data": {"name": "kb"},
          "mark": {"type": "line", "color": "black", "strokeWidth": 4.5, "strokeCap": "round", "strokeJoin": "round"},
          "encoding": {
            "x": {"field": "x", "type": "quantitative", "title": "Azimuth Distance [km]"},
            "y": {"field": "y", "type": "quantitative", "axis": null},
            "detail": {"field": "g", "type": "nominal"}
          }
        },
        {
          "data": {"name": "db"},
          "mark": {"type": "circle", "size": 22, "color": "black", "opacity": 1},
          "encoding": {
            "x": {"field": "x", "type": "quantitative", "title": "Azimuth Distance [km]"},
            "y": {"field": "y", "type": "quantitative", "axis": null}
          }
        },
        {
          "data": {"name": "lb"},
          "mark": {"type": "text", "align": "right", "baseline": "middle", "font": "Liberation Sans", "fontSize": 23, "fontWeight": "bold", "color": "black"},
          "encoding": {
            "x": {"field": "x", "type": "quantitative", "title": "Azimuth Distance [km]"},
            "y": {"field": "y", "type": "quantitative", "axis": null},
            "text": {"field": "t"}
          }
        }
      ]
    }
  ],
  "config": {
    "view": {"stroke": "black", "strokeWidth": 2},
    "axis": {"domain": false, "grid": false, "tickColor": "black", "tickWidth": 1.3,
             "labelFont": "Liberation Sans", "labelFontSize": 16, "labelColor": "black", "labelPadding": 4,
             "titleFont": "Liberation Sans", "titleFontSize": 22.5, "titleFontWeight": "normal", "titleColor": "black"},
    "title": {"font": "Liberation Sans", "fontSize": 18, "fontWeight": "bold", "anchor": "start", "color": "black", "offset": 4, "baseline": "bottom"}
  }
}
